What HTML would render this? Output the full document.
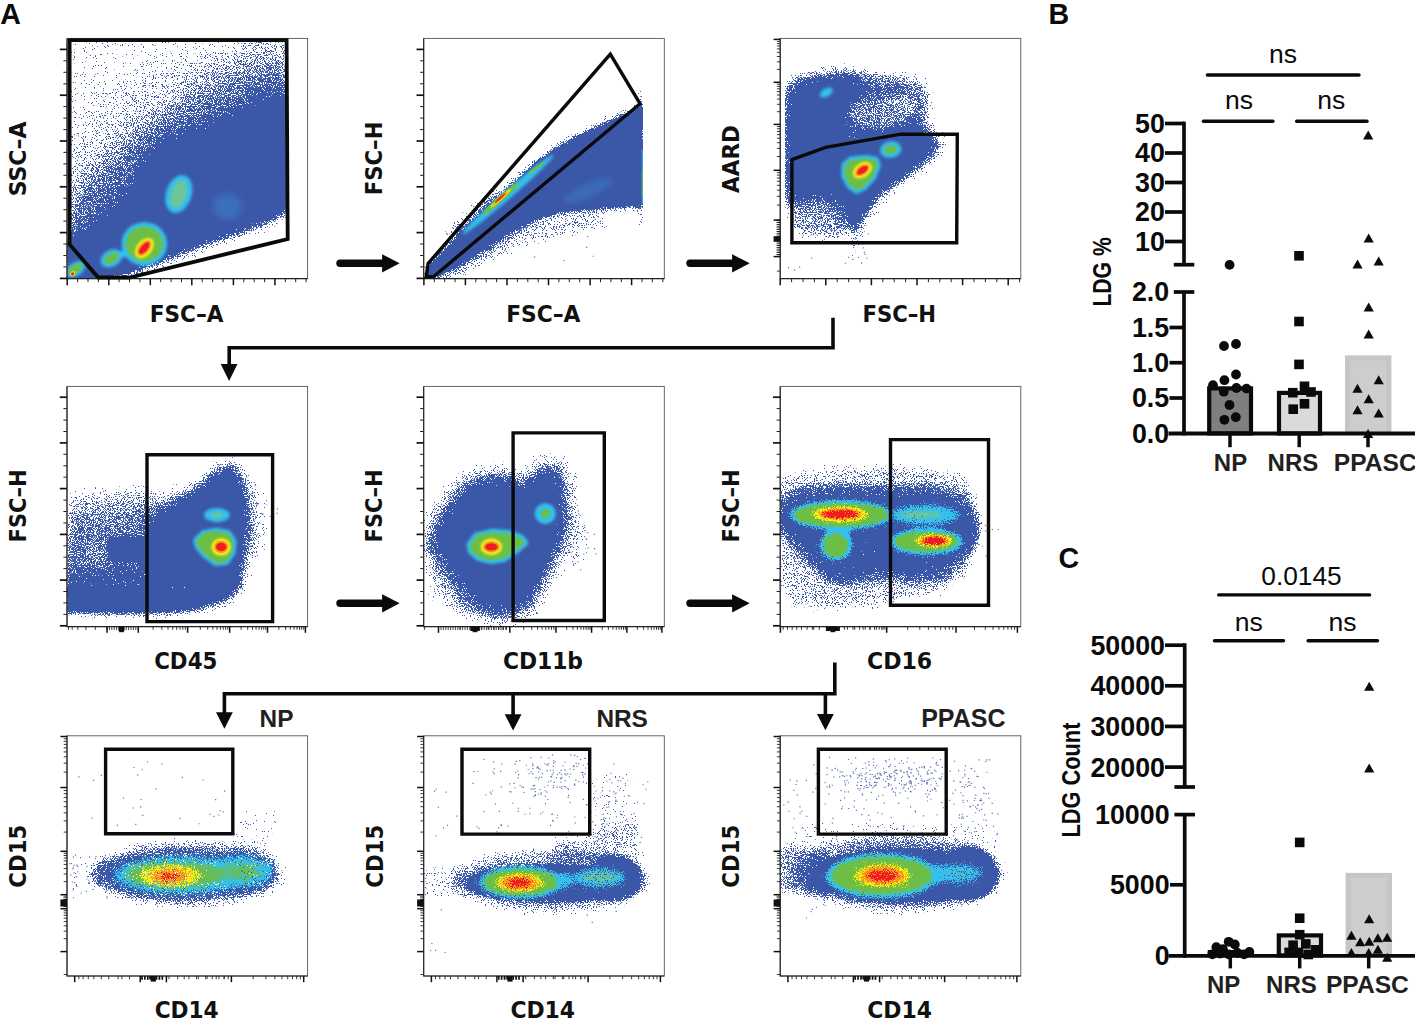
<!DOCTYPE html>
<html lang="en"><head><meta charset="utf-8"><title>Figure</title>
<style>html,body{margin:0;padding:0;background:#fff}svg{display:block}</style></head><body>
<svg width="1415" height="1019" viewBox="0 0 1415 1019">
<defs><filter id="sp" x="0" y="0" width="1415" height="1019" filterUnits="userSpaceOnUse" color-interpolation-filters="sRGB"><feColorMatrix in="SourceGraphic" type="matrix" values="0 0 0 0 0 0 0 0 0 0 0 0 0 0 0 -1.18 0 0 0 1.12" result="d"/><feTurbulence type="fractalNoise" baseFrequency="0.9" numOctaves="2" seed="7" result="n"/><feColorMatrix in="n" type="matrix" values="0 0 0 0 0 0 0 0 0 0 0 0 0 0 0 1.6 0 0 0 -0.3" result="na"/><feComposite in="d" in2="na" operator="arithmetic" k1="0" k2="1" k3="1" k4="-0.94" result="s"/><feComponentTransfer in="s" result="t"><feFuncA type="linear" slope="30" intercept="0"/></feComponentTransfer><feComponentTransfer in="d" result="m"><feFuncA type="linear" slope="40" intercept="-1"/></feComponentTransfer><feFlood flood-color="#3b57a7"/><feComposite in2="t" operator="in"/><feComposite in2="m" operator="in"/><feGaussianBlur stdDeviation="0.35"/></filter><filter id="b3" x="-60%" y="-60%" width="220%" height="220%" color-interpolation-filters="sRGB"><feGaussianBlur stdDeviation="3"/></filter><filter id="b5" x="-60%" y="-60%" width="220%" height="220%" color-interpolation-filters="sRGB"><feGaussianBlur stdDeviation="5"/></filter><filter id="b6" x="-60%" y="-60%" width="220%" height="220%" color-interpolation-filters="sRGB"><feGaussianBlur stdDeviation="6"/></filter><filter id="b7" x="-60%" y="-60%" width="220%" height="220%" color-interpolation-filters="sRGB"><feGaussianBlur stdDeviation="7"/></filter><filter id="b8" x="-60%" y="-60%" width="220%" height="220%" color-interpolation-filters="sRGB"><feGaussianBlur stdDeviation="8"/></filter><filter id="b10" x="-60%" y="-60%" width="220%" height="220%" color-interpolation-filters="sRGB"><feGaussianBlur stdDeviation="10"/></filter><filter id="b12" x="-60%" y="-60%" width="220%" height="220%" color-interpolation-filters="sRGB"><feGaussianBlur stdDeviation="12"/></filter><filter id="b15" x="-60%" y="-60%" width="220%" height="220%" color-interpolation-filters="sRGB"><feGaussianBlur stdDeviation="15"/></filter><filter id="b18" x="-60%" y="-60%" width="220%" height="220%" color-interpolation-filters="sRGB"><feGaussianBlur stdDeviation="18"/></filter><filter id="b25" x="-60%" y="-60%" width="220%" height="220%" color-interpolation-filters="sRGB"><feGaussianBlur stdDeviation="25"/></filter><filter id="b35" x="-60%" y="-60%" width="220%" height="220%" color-interpolation-filters="sRGB"><feGaussianBlur stdDeviation="35"/></filter><filter id="b50" x="-60%" y="-60%" width="220%" height="220%" color-interpolation-filters="sRGB"><feGaussianBlur stdDeviation="50"/></filter><filter id="spc" x="-20%" y="-30%" width="140%" height="160%" color-interpolation-filters="sRGB"><feTurbulence type="fractalNoise" baseFrequency="0.9" numOctaves="2" seed="7" result="n"/><feColorMatrix in="n" type="matrix" values="0 0 0 0 0 0 0 0 0 0 0 0 0 0 0 1.6 0 0 0 -0.3" result="na"/><feComposite in="SourceGraphic" in2="na" operator="arithmetic" k1="0" k2="1" k3="1" k4="-0.94" result="s"/><feComponentTransfer in="s" result="t"><feFuncA type="linear" slope="30" intercept="0"/></feComponentTransfer><feComponentTransfer in="SourceGraphic" result="op"><feFuncA type="linear" slope="25" intercept="0"/></feComponentTransfer><feComposite in="op" in2="t" operator="in"/><feGaussianBlur stdDeviation="0.35"/></filter><clipPath id="c00"><rect x="67.5" y="38.9" width="239.6" height="239.2"/></clipPath><clipPath id="c01"><rect x="67.5" y="386.9" width="239.6" height="239.2"/></clipPath><clipPath id="c02"><rect x="67.5" y="736.3" width="239.6" height="239.2"/></clipPath><clipPath id="c10"><rect x="424.2" y="38.9" width="239.6" height="239.2"/></clipPath><clipPath id="c11"><rect x="424.2" y="386.9" width="239.6" height="239.2"/></clipPath><clipPath id="c12"><rect x="424.2" y="736.3" width="239.6" height="239.2"/></clipPath><clipPath id="c20"><rect x="780.7" y="38.9" width="239.6" height="239.2"/></clipPath><clipPath id="c21"><rect x="780.7" y="386.9" width="239.6" height="239.2"/></clipPath><clipPath id="c22"><rect x="780.7" y="736.3" width="239.6" height="239.2"/></clipPath><clipPath id="c00r"><rect x="67.5" y="38.9" width="219.3" height="239.2"/></clipPath><clipPath id="c00g"><rect x="67.5" y="38.9" width="219.3" height="239.2"/></clipPath><clipPath id="c10r"><rect x="424.2" y="38.9" width="218.7" height="239.2"/></clipPath><clipPath id="c20l"><rect x="785" y="38.9" width="230" height="239.2"/></clipPath></defs>
<rect width="1415" height="1019" fill="#fff"/>
<g filter="url(#sp)"><rect width="1415" height="1019" fill="#fff"/><g clip-path="url(#c00r)"><g transform="translate(50 25) scale(0.26497)"><polygon points="70,800 70,55 893,55 893,270" fill="#000" opacity="0.16"/><polygon points="70,800 70,420 300,200 600,120 893,60 893,300" fill="#000" opacity="0.12" filter="url(#b35)"/><polygon points="420,420 560,160 893,40 893,300" fill="#000" opacity="0.2" filter="url(#b50)"/><polygon points="70,800 70,600 330,340 600,250 893,130 893,300" fill="#000" opacity="0.2" filter="url(#b35)"/><polygon points="70,800 75,700 380,400 620,330 893,180 893,300" fill="#000" opacity="0.3" filter="url(#b35)"/><polygon points="72,842 72,800 150,762 250,684 330,604 385,505 430,452 500,432 600,402 700,354 800,312 893,278 893,692 800,742 700,778 600,812 500,848 400,888 300,928 180,948 120,905" fill="#000" stroke="#000" stroke-width="50" stroke-linejoin="round" opacity="0.42" filter="url(#b25)"/><polygon points="72,842 72,800 150,762 250,684 330,604 385,505 430,452 500,432 600,402 700,354 800,312 893,278 893,692 800,742 700,778 600,812 500,848 400,888 300,928 180,948 120,905" fill="#000" stroke="#000" stroke-width="24" stroke-linejoin="round" opacity="0.5" filter="url(#b12)"/><polygon points="72,842 72,826 150,790 250,714 330,636 388,540 432,486 500,466 600,438 700,394 800,354 893,322 893,686 800,736 700,772 600,806 500,842 400,882 300,922 180,944 120,905" fill="#000" opacity="1.0" filter="url(#b12)"/><polygon points="60,820 190,960 60,960" fill="#000" opacity="1.0" filter="url(#b5)"/></g></g><g clip-path="url(#c10r)"><g transform="translate(405 25) scale(0.26497)"><polygon points="76,952 100,903 200,798 300,698 400,608 500,519 560,474 640,428 760,370 897,308 897,680 800,686 700,692 600,702 500,728 400,778 300,842 200,906 120,952" fill="#000" stroke="#000" stroke-width="30" stroke-linejoin="round" opacity="0.45" filter="url(#b12)"/><polygon points="76,952 100,903 200,798 300,698 400,608 500,519 560,474 640,428 760,370 897,308 897,680 800,686 700,692 600,702 500,728 400,778 300,842 200,906 120,952" fill="#000" opacity="1.0" filter="url(#b7)"/><polygon points="150,940 300,810 450,750 600,720 760,700 760,760 620,790 450,830 320,890 200,955" fill="#000" opacity="0.32" filter="url(#b18)"/><polygon points="120,800 250,680 340,600 350,660 200,800" fill="#000" opacity="0.3" filter="url(#b12)"/><polygon points="880,240 897,240 897,770 880,770" fill="#000" opacity="0.3" filter="url(#b5)"/></g></g><g clip-path="url(#c20l)"><g transform="translate(762 25) scale(0.26497)"><polygon points="92,300 102,240 150,207 250,192 330,187 400,202 470,210 540,214 598,232 618,290 598,370 640,420 662,450 638,492 588,532 518,582 438,642 393,700 352,768 328,742 308,692 250,652 170,642 102,660 90,560 90,400" fill="#000" stroke="#000" stroke-width="60" stroke-linejoin="round" opacity="0.3" filter="url(#b25)"/><polygon points="92,300 102,240 150,207 250,192 330,187 400,202 470,210 540,214 598,232 618,290 598,370 640,420 662,450 638,492 588,532 518,582 438,642 393,700 352,768 328,742 308,692 250,652 170,642 102,660 90,560 90,400" fill="#000" stroke="#000" stroke-width="24" stroke-linejoin="round" opacity="0.5" filter="url(#b12)"/><polygon points="111.7,310.2 121.0,254.4 165.7,223.7 258.7,209.7 333.1,205.1 398.2,219.0 463.3,226.5 528.4,230.2 582.3,246.9 600.9,300.9 582.3,375.3 621.4,421.8 641.8,449.7 619.5,488.7 573.0,525.9 507.9,572.4 433.5,628.2 391.6,682.2 353.5,745.4 331.2,721.2 312.6,674.7 258.7,637.5 184.3,628.2 121.0,645.0 109.9,552.0 109.9,403.2" fill="#000" opacity="1.0" filter="url(#b10)"/><ellipse cx="450" cy="330" rx="140" ry="70" fill="#fff" opacity="0.42" filter="url(#b18)" transform="rotate(-8 450 330)"/><ellipse cx="560" cy="270" rx="50" ry="60" fill="#fff" opacity="0.3" filter="url(#b18)"/><ellipse cx="480" cy="300" rx="170" ry="105" fill="#fff" opacity="0.2" filter="url(#b25)"/><ellipse cx="420" cy="230" rx="120" ry="25" fill="#fff" opacity="0.2" filter="url(#b12)"/><ellipse cx="340" cy="420" rx="40" ry="25" fill="#fff" opacity="0.3" filter="url(#b12)"/><ellipse cx="180" cy="440" rx="25" ry="18" fill="#fff" opacity="0.3" filter="url(#b8)"/><polygon points="95,640 250,650 310,700 330,760 300,810 200,800 110,780" fill="#000" opacity="0.42" filter="url(#b18)"/><polygon points="325,760 385,760 380,900 330,900" fill="#000" opacity="0.15" filter="url(#b12)"/></g></g><g clip-path="url(#c01)"><g transform="translate(50 372) scale(0.26497)"><polygon points="60,470 200,470 380,455 520,430 600,380 650,340 720,350 760,450 770,620 740,780 700,860 560,920 300,925 60,920" fill="#000" opacity="0.22" filter="url(#b25)"/><polygon points="60,450 380,425 430,520 430,830 60,830" fill="#000" opacity="0.2" filter="url(#b25)"/><polygon points="60,545 400,510 430,830 60,830" fill="#000" opacity="0.2" filter="url(#b25)"/><polygon points="60,645 420,620 430,830 60,830" fill="#000" opacity="0.2" filter="url(#b25)"/><polygon points="60,745 420,730 430,830 60,830" fill="#000" opacity="0.3" filter="url(#b18)"/><polygon points="385,575 450,505 520,472 580,440 620,392 680,366 715,400 730,470 738,560 735,640 720,720 702,800 640,852 500,852 400,800 385,700" fill="#000" stroke="#000" stroke-width="70" stroke-linejoin="round" opacity="0.3" filter="url(#b25)"/><polygon points="385,575 450,505 520,472 580,440 620,392 680,366 715,400 730,470 738,560 735,640 720,720 702,800 640,852 500,852 400,800 385,700" fill="#000" stroke="#000" stroke-width="24" stroke-linejoin="round" opacity="0.5" filter="url(#b12)"/><polygon points="60,818 200,812 360,815 450,808 600,800 705,790 690,820 640,850 560,884 450,901 300,904 60,901" fill="#000" stroke="#000" stroke-width="30" stroke-linejoin="round" opacity="0.45" filter="url(#b10)"/><polygon points="60,818 200,812 360,815 450,808 600,800 705,790 690,820 640,850 560,884 450,901 300,904 60,901" fill="#000" opacity="1.0" filter="url(#b7)"/><polygon points="401.7,576.7 461.5,512.3 525.9,482.0 581.1,452.5 617.9,408.4 673.1,384.4 705.3,415.7 719.1,480.1 726.5,562.9 723.7,636.5 709.9,710.1 693.3,783.7 636.3,831.6 507.5,831.6 415.5,783.7 401.7,691.7" fill="#000" opacity="1.0" filter="url(#b10)"/><ellipse cx="290" cy="668" rx="75" ry="45" fill="#000" opacity="1.0" filter="url(#b8)"/><polygon points="280,640 400,620 400,710 280,700" fill="#000" opacity="1.0" filter="url(#b8)"/><ellipse cx="170" cy="690" rx="50" ry="60" fill="#fff" opacity="0.22" filter="url(#b18)"/><ellipse cx="470" cy="810" rx="60" ry="20" fill="#fff" opacity="0.25" filter="url(#b8)"/><ellipse cx="790" cy="560" rx="40" ry="150" fill="#000" opacity="0.16" filter="url(#b18)"/></g></g><g clip-path="url(#c11)"><g transform="translate(405 372) scale(0.26497)"><polygon points="100,650 132,560 222,444 300,405 380,405 450,434 490,404 520,374 568,374 594,430 600,560 580,640 540,720 500,800 460,878 400,903 330,910 274,878 204,800 144,720" fill="#000" stroke="#000" stroke-width="110" stroke-linejoin="round" opacity="0.36" filter="url(#b25)"/><polygon points="90,700 300,900 200,925 90,860" fill="#000" opacity="0.2" filter="url(#b18)"/><polygon points="100,650 132,560 222,444 300,405 380,405 450,434 490,404 520,374 568,374 594,430 600,560 580,640 540,720 500,800 460,878 400,903 330,910 274,878 204,800 144,720" fill="#000" stroke="#000" stroke-width="24" stroke-linejoin="round" opacity="0.5" filter="url(#b15)"/><polygon points="131.8,646.1 160.3,566.0 240.4,462.7 309.8,428.0 381.0,428.0 443.3,453.8 478.9,427.1 505.6,400.4 548.4,400.4 571.5,450.3 576.8,566.0 559.0,637.2 523.4,708.4 487.8,779.6 452.2,849.0 398.8,871.3 336.5,877.5 286.7,849.0 224.4,779.6 171.0,708.4" fill="#000" opacity="1.0" filter="url(#b12)"/><ellipse cx="650" cy="640" rx="50" ry="100" fill="#000" opacity="0.15" filter="url(#b18)"/></g></g><g clip-path="url(#c21)"><g transform="translate(762 372) scale(0.26497)"><polygon points="62,400 200,362 500,352 760,380 815,500 815,650 765,780 640,852 450,882 250,905 120,885 62,800" fill="#000" opacity="0.32" filter="url(#b18)"/><polygon points="62,492 150,454 300,444 480,449 640,444 758,474 795,540 790,640 740,720 680,768 560,780 480,760 400,770 300,790 234,760 154,680 94,600 62,580" fill="#000" stroke="#000" stroke-width="40" stroke-linejoin="round" opacity="0.4" filter="url(#b15)"/><polygon points="91.2,502.2 172.1,467.2 310.1,458.0 475.7,462.6 622.9,458.0 731.5,485.6 765.5,546.3 760.9,638.3 714.9,711.9 659.7,756.1 549.3,767.1 475.7,748.7 402.1,757.9 310.1,776.3 249.4,748.7 175.8,675.1 120.6,601.5 91.2,583.1" fill="#000" opacity="0.6" filter="url(#b18)"/><ellipse cx="300" cy="560" rx="250" ry="75" fill="#000" opacity="0.62" filter="url(#b18)"/><ellipse cx="630" cy="600" rx="190" ry="95" fill="#000" opacity="0.62" filter="url(#b18)"/><ellipse cx="280" cy="650" rx="80" ry="70" fill="#000" opacity="0.6" filter="url(#b12)"/></g></g><g clip-path="url(#c02)"><g transform="translate(50 722) scale(0.26497)"><ellipse cx="520" cy="572" rx="375" ry="128" fill="#000" opacity="0.32" filter="url(#b18)"/><ellipse cx="510" cy="575" rx="340" ry="102" fill="#000" opacity="0.38" filter="url(#b12)"/><ellipse cx="490" cy="578" rx="275" ry="76" fill="#000" opacity="0.32" filter="url(#b12)"/><ellipse cx="740" cy="560" rx="112" ry="90" fill="#000" opacity="0.3" filter="url(#b12)"/><polygon points="70,520 200,500 200,640 70,660" fill="#000" opacity="0.12" filter="url(#b12)"/><polygon points="680,330 860,330 860,470 680,470" fill="#000" opacity="0.14" filter="url(#b12)"/></g></g><g clip-path="url(#c12)"><g transform="translate(405 722) scale(0.26497)"><ellipse cx="555" cy="600" rx="375" ry="120" fill="#000" opacity="0.4" filter="url(#b18)"/><ellipse cx="545" cy="607" rx="318" ry="70" fill="#000" opacity="0.5" filter="url(#b10)"/><ellipse cx="545" cy="607" rx="310" ry="64" fill="#000" opacity="1.0" filter="url(#b8)"/><ellipse cx="790" cy="588" rx="92" ry="72" fill="#000" opacity="1.0" filter="url(#b8)"/><ellipse cx="790" cy="588" rx="105" ry="88" fill="#000" opacity="0.5" filter="url(#b10)"/><polygon points="70,540 230,540 230,660 70,660" fill="#000" opacity="0.22" filter="url(#b12)"/><polygon points="560,440 880,380 900,520 560,530" fill="#000" opacity="0.28" filter="url(#b18)"/><polygon points="700,200 860,180 880,420 700,440" fill="#000" opacity="0.14" filter="url(#b12)"/></g></g><g clip-path="url(#c22)"><g transform="translate(762 722) scale(0.26497)"><ellipse cx="520" cy="575" rx="400" ry="145" fill="#000" opacity="0.4" filter="url(#b18)"/><ellipse cx="530" cy="580" rx="350" ry="104" fill="#000" opacity="0.5" filter="url(#b10)"/><ellipse cx="530" cy="580" rx="338" ry="92" fill="#000" opacity="1.0" filter="url(#b8)"/><ellipse cx="780" cy="572" rx="98" ry="90" fill="#000" opacity="1.0" filter="url(#b8)"/><ellipse cx="780" cy="572" rx="110" ry="105" fill="#000" opacity="0.5" filter="url(#b10)"/><polygon points="62,470 250,480 250,660 62,640" fill="#000" opacity="0.42" filter="url(#b12)"/><polygon points="90,380 900,380 900,480 90,480" fill="#000" opacity="0.16" filter="url(#b12)"/></g></g></g>
<g clip-path="url(#c00g)"><g transform="translate(50 25) scale(0.26497)"><ellipse cx="670" cy="685" rx="55" ry="48" fill="#3f9be0" filter="url(#b12)" opacity="0.36"/><ellipse cx="486" cy="638" rx="48" ry="73" fill="#35c0ee" transform="rotate(18 486 638)" filter="url(#b7)"/><ellipse cx="486" cy="638" rx="29" ry="54" fill="#6cc59a" transform="rotate(18 486 638)" filter="url(#b5)"/><ellipse cx="290" cy="858" rx="40" ry="14" fill="#35c0ee" transform="rotate(-25 290 858)" filter="url(#b7)"/><ellipse cx="231.5" cy="880.5" rx="43" ry="31.5" fill="#35c0ee" transform="rotate(-30 231.5 880.5)" filter="url(#b7)"/><ellipse cx="231.5" cy="880.5" rx="29" ry="17.5" fill="#6dbe45" transform="rotate(-30 231.5 880.5)" filter="url(#b5)"/><ellipse cx="356" cy="826" rx="86" ry="82" fill="#35c0ee" filter="url(#b7)"/><ellipse cx="356" cy="826" rx="70" ry="66" fill="#6dbe45" filter="url(#b5)"/><ellipse cx="356" cy="842" rx="44" ry="28.6" fill="#f6eb14" transform="rotate(-50 356 842)" filter="url(#b5)"/><ellipse cx="356" cy="842" rx="34.25" ry="18.85" fill="#f7941d" transform="rotate(-50 356 842)" filter="url(#b3)"/><ellipse cx="356" cy="842" rx="26.68" ry="11.968" fill="#ee1c25" transform="rotate(-50 356 842)" filter="url(#b3)"/><ellipse cx="96" cy="922" rx="41" ry="25" fill="#35c0ee" transform="rotate(-35 96 922)" filter="url(#b7)"/><ellipse cx="96" cy="922" rx="31" ry="15" fill="#6dbe45" transform="rotate(-35 96 922)" filter="url(#b5)"/><ellipse cx="86" cy="938" rx="11" ry="8" fill="#f6eb14" transform="rotate(-35 86 938)" filter="url(#b3)"/><ellipse cx="85.5" cy="939" rx="6.5" ry="5" fill="#ee1c25" transform="rotate(-35 85.5 939)"/></g></g><g clip-path="url(#c10)"><g transform="translate(405 25) scale(0.26497)"><ellipse cx="690" cy="625" rx="100" ry="28" fill="#3f9be0" transform="rotate(-25 690 625)" filter="url(#b10)" opacity="0.28"/><ellipse cx="388.7" cy="639.3" rx="228" ry="16" fill="#35c0ee" transform="rotate(-41 388.7 639.3)" filter="url(#b6)"/><ellipse cx="361.5" cy="654.9" rx="92" ry="11" fill="#6dbe45" transform="rotate(-42 361.5 654.9)" filter="url(#b4)"/><ellipse cx="493.7" cy="540.2" rx="39" ry="5.5" fill="#6dbe45" transform="rotate(-37 493.7 540.2)" filter="url(#b3)"/><ellipse cx="361" cy="654" rx="52" ry="6" fill="#f6eb14" transform="rotate(-42 361 654)" filter="url(#b3)"/><ellipse cx="360" cy="653.5" rx="36" ry="4.6" fill="#f7941d" transform="rotate(-42 360 653.5)" filter="url(#b3)"/><ellipse cx="359.6" cy="652.9" rx="27" ry="3.6" fill="#ee1c25" transform="rotate(-42 359.6 652.9)"/><path d="M895.5 470V672" stroke="#35c0ee" stroke-width="3.4"/><path d="M895.5 548V646" stroke="#6dbe45" stroke-width="3.4"/></g></g><g clip-path="url(#c20)"><g transform="translate(762 25) scale(0.26497)"><ellipse cx="243" cy="255" rx="27" ry="15" fill="#35c0ee" transform="rotate(-30 243 255)" filter="url(#b6)"/><ellipse cx="485.5" cy="470.5" rx="41" ry="31.5" fill="#35c0ee" transform="rotate(-10 485.5 470.5)" filter="url(#b7)"/><ellipse cx="485.5" cy="470.5" rx="25" ry="15.5" fill="#6dbe45" transform="rotate(-10 485.5 470.5)" filter="url(#b5)"/><polygon points="314.5,530.8 337.8,511.3 392.2,505.5 427.2,511.3 433.1,530.8 415.6,573.5 384.5,608.5 357.2,622.1 333.9,604.6 314.5,569.6" fill="#35c0ee" stroke="#35c0ee" stroke-width="30" stroke-linejoin="round" filter="url(#b7)"/><polygon points="314.5,530.8 337.8,511.3 392.2,505.5 427.2,511.3 433.1,530.8 415.6,573.5 384.5,608.5 357.2,622.1 333.9,604.6 314.5,569.6" fill="#6dbe45" stroke="#6dbe45" stroke-width="4" stroke-linejoin="round" filter="url(#b5)"/><ellipse cx="379" cy="548" rx="40" ry="27.5" fill="#f6eb14" transform="rotate(-35 379 548)" filter="url(#b5)"/><ellipse cx="379" cy="548" rx="30.25" ry="17.75" fill="#f7941d" transform="rotate(-35 379 548)" filter="url(#b3)"/><ellipse cx="379" cy="548" rx="23.0" ry="11.0" fill="#ee1c25" transform="rotate(-35 379 548)" filter="url(#b3)"/></g></g><g clip-path="url(#c01)"><g transform="translate(50 372) scale(0.26497)"><ellipse cx="629.8" cy="539.8" rx="48" ry="27" fill="#35c0ee" filter="url(#b7)"/><ellipse cx="629.8" cy="539.8" rx="23" ry="9" fill="#6cc59a" filter="url(#b5)"/><polygon points="554.0,637.0 581.2,609.8 627.9,602.0 670.6,609.8 690.1,640.9 686.2,679.8 662.9,714.8 627.9,718.6 585.1,687.5 561.8,660.3" fill="#35c0ee" stroke="#35c0ee" stroke-width="28" stroke-linejoin="round" filter="url(#b7)"/><polygon points="554.0,637.0 581.2,609.8 627.9,602.0 670.6,609.8 690.1,640.9 686.2,679.8 662.9,714.8 627.9,718.6 585.1,687.5 561.8,660.3" fill="#6dbe45" stroke="#6dbe45" stroke-width="4" stroke-linejoin="round" filter="url(#b5)"/><ellipse cx="646" cy="660" rx="37" ry="33.5" fill="#f6eb14" filter="url(#b5)"/><ellipse cx="646" cy="660" rx="26.6" ry="23.1" fill="#f7941d" filter="url(#b3)"/><ellipse cx="646" cy="660" rx="19.32" ry="15.4" fill="#ee1c25" filter="url(#b3)"/></g></g><g clip-path="url(#c11)"><g transform="translate(405 372) scale(0.26497)"><ellipse cx="529.4" cy="534.7" rx="39.5" ry="39.5" fill="#35c0ee" filter="url(#b7)"/><ellipse cx="529.4" cy="534.7" rx="17.5" ry="17.5" fill="#6dbe45" filter="url(#b5)"/><polygon points="247.6,651.4 270.9,620.3 325.3,606.7 387.5,610.5 434.2,626.1 449.7,643.6 418.6,670.8 372.0,701.9 325.3,709.7 278.7,698.0 251.4,674.7" fill="#35c0ee" stroke="#35c0ee" stroke-width="30" stroke-linejoin="round" filter="url(#b7)"/><polygon points="247.6,651.4 270.9,620.3 325.3,606.7 387.5,610.5 434.2,626.1 449.7,643.6 418.6,670.8 372.0,701.9 325.3,709.7 278.7,698.0 251.4,674.7" fill="#6dbe45" stroke="#6dbe45" stroke-width="4" stroke-linejoin="round" filter="url(#b5)"/><ellipse cx="326" cy="660" rx="41" ry="31.5" fill="#f6eb14" filter="url(#b5)"/><ellipse cx="326" cy="660" rx="30.6" ry="21.1" fill="#f7941d" filter="url(#b3)"/><ellipse cx="326" cy="660" rx="23.0" ry="13.64" fill="#ee1c25" filter="url(#b3)"/></g></g><g filter="url(#spc)"><g clip-path="url(#c21)"><g transform="translate(762 372) scale(0.26497)"><ellipse cx="614.9" cy="539.2" rx="130" ry="36" fill="#35c0ee" filter="url(#b12)" opacity="0.85"/><ellipse cx="290" cy="600" rx="42" ry="44" fill="#35c0ee" filter="url(#b8)"/><ellipse cx="278.8" cy="654" rx="60" ry="56" fill="#35c0ee" filter="url(#b10)"/><ellipse cx="298.4" cy="539.2" rx="194" ry="56" fill="#35c0ee" filter="url(#b10)"/><ellipse cx="620.5" cy="640" rx="136" ry="50" fill="#35c0ee" filter="url(#b10)"/></g></g></g><g filter="url(#spc)"><g clip-path="url(#c21)"><g transform="translate(762 372) scale(0.26497)"><ellipse cx="600" cy="538" rx="85" ry="16" fill="#6cc59a" filter="url(#b10)" opacity="0.75"/><ellipse cx="278.8" cy="654" rx="46" ry="43" fill="#6dbe45" filter="url(#b8)"/><ellipse cx="298.4" cy="539.2" rx="178" ry="43" fill="#6dbe45" filter="url(#b8)"/><ellipse cx="620.5" cy="640" rx="120" ry="37" fill="#6dbe45" filter="url(#b8)"/></g></g></g><g filter="url(#spc)"><g clip-path="url(#c21)"><g transform="translate(762 372) scale(0.26497)"><ellipse cx="296" cy="537" rx="104" ry="28" fill="#f6eb14" filter="url(#b8)"/><ellipse cx="648.5" cy="637.2" rx="70" ry="23" fill="#f6eb14" filter="url(#b8)"/></g></g></g><g filter="url(#spc)"><g clip-path="url(#c21)"><g transform="translate(762 372) scale(0.26497)"><ellipse cx="296" cy="536.6" rx="84" ry="21" fill="#f7941d" filter="url(#b8)"/><ellipse cx="650" cy="637.2" rx="58" ry="17" fill="#f7941d" filter="url(#b8)"/></g></g></g><g filter="url(#spc)"><g clip-path="url(#c21)"><g transform="translate(762 372) scale(0.26497)"><ellipse cx="295.6" cy="536.4" rx="68" ry="15" fill="#ee1c25" filter="url(#b8)"/><ellipse cx="651.3" cy="637.2" rx="48" ry="12.5" fill="#ee1c25" filter="url(#b8)"/></g></g></g><g filter="url(#spc)"><g clip-path="url(#c02)"><g transform="translate(50 722) scale(0.26497)"><ellipse cx="485" cy="578" rx="245" ry="72" fill="#35c0ee" filter="url(#b18)" opacity="0.78"/><ellipse cx="725" cy="565" rx="122" ry="62" fill="#35c0ee" filter="url(#b18)" opacity="0.72"/></g></g></g><g filter="url(#spc)"><g clip-path="url(#c02)"><g transform="translate(50 722) scale(0.26497)"><ellipse cx="470" cy="578" rx="190" ry="54" fill="#6dbe45" filter="url(#b18)" opacity="0.74"/><ellipse cx="722" cy="565" rx="86" ry="40" fill="#6dbe45" filter="url(#b18)" opacity="0.58"/></g></g></g><g filter="url(#spc)"><g clip-path="url(#c02)"><g transform="translate(50 722) scale(0.26497)"><ellipse cx="455" cy="580" rx="118" ry="43" fill="#f6eb14" filter="url(#b15)" opacity="0.74"/></g></g></g><g filter="url(#spc)"><g clip-path="url(#c02)"><g transform="translate(50 722) scale(0.26497)"><ellipse cx="452" cy="581" rx="80" ry="31" fill="#f7941d" filter="url(#b15)" opacity="0.72"/></g></g></g><g filter="url(#spc)"><g clip-path="url(#c02)"><g transform="translate(50 722) scale(0.26497)"><ellipse cx="450" cy="582" rx="42" ry="17" fill="#ee1c25" filter="url(#b12)" opacity="0.68"/></g></g></g><g filter="url(#spc)"><g clip-path="url(#c12)"><g transform="translate(405 722) scale(0.26497)"><ellipse cx="732" cy="587" rx="104" ry="38" fill="#35c0ee" filter="url(#b15)" opacity="0.68"/><ellipse cx="436" cy="605" rx="156" ry="60" fill="#35c0ee" filter="url(#b12)"/><ellipse cx="590" cy="598" rx="50" ry="26" fill="#35c0ee" filter="url(#b12)" opacity="0.8"/></g></g></g><g filter="url(#spc)"><g clip-path="url(#c12)"><g transform="translate(405 722) scale(0.26497)"><ellipse cx="735" cy="586" rx="80" ry="24" fill="#6cc59a" filter="url(#b15)" opacity="0.6"/><ellipse cx="436" cy="605" rx="140" ry="48" fill="#6dbe45" filter="url(#b12)"/></g></g></g><g filter="url(#spc)"><g clip-path="url(#c12)"><g transform="translate(405 722) scale(0.26497)"><ellipse cx="432" cy="606" rx="90" ry="32" fill="#f6eb14" filter="url(#b12)"/></g></g></g><g filter="url(#spc)"><g clip-path="url(#c12)"><g transform="translate(405 722) scale(0.26497)"><ellipse cx="431" cy="606.5" rx="72" ry="25" fill="#f7941d" filter="url(#b12)"/></g></g></g><g filter="url(#spc)"><g clip-path="url(#c12)"><g transform="translate(405 722) scale(0.26497)"><ellipse cx="430" cy="607" rx="50" ry="16" fill="#ee1c25" filter="url(#b12)" opacity="0.9"/></g></g></g><g filter="url(#spc)"><g clip-path="url(#c22)"><g transform="translate(762 722) scale(0.26497)"><ellipse cx="745" cy="572" rx="88" ry="38" fill="#35c0ee" filter="url(#b15)" opacity="0.65"/><ellipse cx="452" cy="580" rx="208" ry="84" fill="#35c0ee" filter="url(#b12)"/><ellipse cx="650" cy="575" rx="50" ry="32" fill="#35c0ee" filter="url(#b12)" opacity="0.8"/></g></g></g><g filter="url(#spc)"><g clip-path="url(#c22)"><g transform="translate(762 722) scale(0.26497)"><ellipse cx="745" cy="570" rx="50" ry="18" fill="#6cc59a" filter="url(#b15)" opacity="0.45"/><ellipse cx="452" cy="580" rx="190" ry="69" fill="#6dbe45" filter="url(#b12)"/></g></g></g><g filter="url(#spc)"><g clip-path="url(#c22)"><g transform="translate(762 722) scale(0.26497)"><ellipse cx="455" cy="580" rx="106" ry="41" fill="#f6eb14" filter="url(#b12)"/></g></g></g><g filter="url(#spc)"><g clip-path="url(#c22)"><g transform="translate(762 722) scale(0.26497)"><ellipse cx="455" cy="580" rx="85" ry="32" fill="#f7941d" filter="url(#b12)"/></g></g></g><g filter="url(#spc)"><g clip-path="url(#c22)"><g transform="translate(762 722) scale(0.26497)"><ellipse cx="455" cy="580" rx="58" ry="20" fill="#ee1c25" filter="url(#b12)" opacity="0.9"/></g></g></g>
<path d="M86.2 879.0h1.15M104.1 874.8h1.15M88.3 880.2h1.15M76.1 876.9h1.15M92.9 889.2h1.15M72.6 867.7h1.15M72.5 889.9h1.15M95.4 856.3h1.15M106.3 896.7h1.15M93.9 881.4h1.15M75.0 855.1h1.15M89.1 857.1h1.15M76.3 865.1h1.15M70.2 874.8h1.15M85.8 891.3h1.15M88.7 882.5h1.15M88.0 883.4h1.15M86.4 866.6h1.15M106.9 898.0h1.15M100.9 885.4h1.15M81.0 864.5h1.15M80.0 857.6h1.15M98.1 872.0h1.15M101.2 871.4h1.15M105.4 891.5h1.15M69.1 863.7h1.15M103.6 875.0h1.15M106.2 871.9h1.15M71.8 882.0h1.15M98.6 866.3h1.15M72.4 869.0h1.15M105.6 887.6h1.15M73.5 865.3h1.15M72.9 857.1h1.15M99.3 862.3h1.15M90.3 874.0h1.15M76.3 886.5h1.15M74.0 882.6h1.15M73.5 872.9h1.15M77.1 866.3h1.15M105.9 889.6h1.15M80.6 893.2h1.15M77.1 871.7h1.15M101.4 882.5h1.15M72.9 897.7h1.15M137.1 774.9h1.15M202.4 780.0h1.15M146.8 761.7h1.15M122.8 798.1h1.15M140.6 799.5h1.15M155.6 788.9h1.15M224.1 791.1h1.15M179.3 818.4h1.15M133.6 767.5h1.15M218.2 815.0h1.15M141.4 770.0h1.15M198.5 823.7h1.15M135.2 824.4h1.15M215.1 799.6h1.15M161.4 763.9h1.15M116.8 825.3h1.15M140.1 806.9h1.15M142.2 815.4h1.15M181.8 777.4h1.15M132.7 808.0h1.15M78.3 776.9h1.15M91.3 818.2h1.15M92.8 780.3h1.15M100.8 775.3h1.15M209.4 814.4h1.15M219.6 810.6h1.15M213.2 816.3h1.15M222.6 811.9h1.15M523.5 792.5h1.15M544.6 763.9h1.15M560.1 778.4h1.15M517.7 778.1h1.15M517.7 811.4h1.15M582.7 782.1h1.15M551.9 754.8h1.15M553.0 760.7h1.15M570.2 754.8h1.15M534.4 788.6h1.15M519.5 785.2h1.15M576.4 766.4h1.15M539.5 769.3h1.15M527.7 769.5h1.15M585.9 783.3h1.15M552.8 766.4h1.15M553.1 763.1h1.15M513.6 783.3h1.15M587.8 778.9h1.15M538.9 777.2h1.15M547.1 765.1h1.15M515.7 761.4h1.15M555.9 777.8h1.15M544.7 790.7h1.15M560.3 782.2h1.15M585.1 768.1h1.15M509.1 783.9h1.15M539.6 789.5h1.15M564.1 786.5h1.15M574.2 755.4h1.15M573.2 769.5h1.15M538.0 771.9h1.15M574.3 785.2h1.15M580.1 759.6h1.15M553.6 782.4h1.15M537.8 778.8h1.15M561.5 786.5h1.15M536.4 768.0h1.15M537.8 794.0h1.15M582.0 775.1h1.15M561.4 777.5h1.15M560.9 774.2h1.15M548.1 763.7h1.15M540.7 792.9h1.15M568.8 777.0h1.15M550.9 776.9h1.15M564.5 769.8h1.15M560.7 778.7h1.15M538.2 768.4h1.15M532.2 765.6h1.15M549.7 770.2h1.15M541.2 777.3h1.15M582.9 777.1h1.15M552.7 770.2h1.15M553.0 785.5h1.15M546.6 764.8h1.15M525.9 765.2h1.15M522.9 787.4h1.15M564.5 773.9h1.15M574.0 784.4h1.15M519.2 760.6h1.15M533.9 785.4h1.15M586.9 764.0h1.15M581.0 772.5h1.15M546.6 770.8h1.15M548.3 758.0h1.15M532.2 763.9h1.15M567.7 797.4h1.15M515.0 772.2h1.15M533.6 796.3h1.15M569.6 769.0h1.15M578.3 781.7h1.15M517.3 771.0h1.15M550.3 776.5h1.15M559.2 772.9h1.15M560.6 770.4h1.15M534.7 791.6h1.15M564.6 780.7h1.15M518.0 774.6h1.15M575.6 763.3h1.15M582.2 772.4h1.15M565.6 775.0h1.15M561.2 788.4h1.15M546.4 792.1h1.15M537.4 766.9h1.15M573.0 765.6h1.15M547.2 785.5h1.15M584.9 758.4h1.15M568.1 795.3h1.15M584.5 773.9h1.15M541.7 773.3h1.15M528.5 773.7h1.15M551.6 774.9h1.15M584.2 774.0h1.15M521.3 786.9h1.15M530.4 771.8h1.15M552.8 772.9h1.15M532.1 773.8h1.15M552.8 787.6h1.15M573.8 784.0h1.15M576.6 756.5h1.15M535.4 777.6h1.15M567.9 789.4h1.15M567.2 773.9h1.15M557.0 774.2h1.15M493.6 773.6h1.15M550.4 780.8h1.15M512.2 803.2h1.15M483.3 811.6h1.15M485.4 795.0h1.15M500.1 771.4h1.15M532.4 789.4h1.15M514.5 787.7h1.15M532.3 768.5h1.15M494.8 804.1h1.15M544.8 796.4h1.15M569.4 802.6h1.15M570.0 774.0h1.15M556.6 817.7h1.15M575.3 780.3h1.15M507.5 826.1h1.15M496.4 831.8h1.15M573.5 766.6h1.15M498.8 811.3h1.15M501.2 763.8h1.15M567.2 788.3h1.15M562.3 766.0h1.15M517.7 808.2h1.15M473.3 771.6h1.15M549.9 825.3h1.15M582.9 765.2h1.15M529.5 813.7h1.15M529.2 808.2h1.15M493.0 761.8h1.15M483.5 759.3h1.15M534.8 795.3h1.15M536.8 767.5h1.15M492.5 771.8h1.15M568.1 831.2h1.15M578.1 763.6h1.15M478.4 828.3h1.15M524.5 814.2h1.15M508.9 791.7h1.15M530.6 788.9h1.15M540.5 757.4h1.15M552.0 820.2h1.15M492.1 790.7h1.15M556.5 787.1h1.15M493.7 768.9h1.15M530.3 757.6h1.15M574.2 817.0h1.15M552.5 821.4h1.15M543.8 787.0h1.15M540.4 794.5h1.15M584.5 817.2h1.15M501.0 825.3h1.15M557.0 815.2h1.15M565.1 787.1h1.15M574.6 822.9h1.15M551.3 814.4h1.15M559.4 787.1h1.15M554.5 761.8h1.15M510.6 791.9h1.15M472.5 783.3h1.15M544.9 803.6h1.15M498.0 827.8h1.15M548.0 782.0h1.15M547.3 799.5h1.15M532.7 785.9h1.15M586.5 804.9h1.15M552.1 814.0h1.15M584.2 758.2h1.15M542.2 812.2h1.15M500.8 786.8h1.15M477.1 771.2h1.15M514.5 763.9h1.15M500.2 824.8h1.15M534.6 794.8h1.15M582.7 799.3h1.15M585.9 804.6h1.15M564.5 762.2h1.15M540.1 813.8h1.15M476.4 826.7h1.15M489.7 792.1h1.15M490.7 793.9h1.15M445.6 792.1h1.15M456.3 816.1h1.15M442.9 827.8h1.15M437.8 807.2h1.15M447.0 825.4h1.15M435.2 835.7h1.15M435.6 789.2h1.15M434.0 791.1h1.15M431.3 943.5h1.15M435.0 950.3h1.15M440.7 909.9h1.15M444.6 952.5h1.15M430.0 950.7h1.15M586.7 915.1h1.15M615.6 911.4h1.15M591.7 922.4h1.15M611.3 783.0h1.15M643.3 803.6h1.15M608.1 802.3h1.15M601.9 790.9h1.15M615.8 816.9h1.15M606.3 807.3h1.15M592.2 821.9h1.15M602.4 814.6h1.15M599.9 797.2h1.15M617.7 780.6h1.15M613.2 791.9h1.15M639.7 842.5h1.15M619.1 776.8h1.15M606.3 824.1h1.15M606.2 781.2h1.15M595.4 791.0h1.15M614.5 794.0h1.15M642.5 784.7h1.15M619.8 811.5h1.15M612.1 834.3h1.15M609.0 801.7h1.15M608.4 807.0h1.15M634.8 827.9h1.15M593.0 798.9h1.15M601.6 828.9h1.15M617.9 830.7h1.15M613.3 763.9h1.15M621.5 814.9h1.15M622.4 778.4h1.15M615.6 793.0h1.15M603.4 817.9h1.15M619.9 788.2h1.15M605.2 836.2h1.15M600.6 819.5h1.15M640.9 837.3h1.15M620.2 814.1h1.15M597.5 798.7h1.15M609.0 791.0h1.15M615.3 800.1h1.15M619.7 843.6h1.15M626.1 819.4h1.15M610.5 773.2h1.15M612.5 822.4h1.15M598.3 839.3h1.15M609.0 818.3h1.15M609.1 779.5h1.15M647.2 781.7h1.15M628.9 796.2h1.15M618.8 790.2h1.15M607.7 831.4h1.15M645.3 789.2h1.15M614.5 832.0h1.15M604.3 826.4h1.15M601.8 823.8h1.15M621.3 838.3h1.15M620.1 781.0h1.15M624.9 783.2h1.15M626.3 845.5h1.15M623.8 796.2h1.15M633.3 813.4h1.15M594.5 801.0h1.15M636.9 802.2h1.15M616.3 801.3h1.15M620.0 814.4h1.15M633.7 826.6h1.15M935.0 788.7h1.15M884.5 772.5h1.15M910.6 791.8h1.15M841.7 775.7h1.15M875.1 782.4h1.15M857.0 778.1h1.15M890.0 764.6h1.15M930.3 773.2h1.15M923.3 766.5h1.15M937.5 765.4h1.15M936.1 762.3h1.15M846.2 775.7h1.15M911.4 769.2h1.15M882.8 779.9h1.15M885.0 781.3h1.15M910.0 786.2h1.15M876.0 799.3h1.15M927.3 780.3h1.15M937.2 785.7h1.15M903.3 772.4h1.15M935.1 781.2h1.15M834.6 768.3h1.15M915.9 778.6h1.15M909.4 783.1h1.15M904.8 791.1h1.15M879.5 774.3h1.15M910.9 784.0h1.15M926.9 790.3h1.15M883.4 787.5h1.15M915.9 768.8h1.15M895.1 795.3h1.15M926.8 773.7h1.15M875.6 778.3h1.15M910.6 769.7h1.15M858.9 775.9h1.15M883.7 803.1h1.15M885.9 772.4h1.15M938.7 778.3h1.15M857.3 788.6h1.15M889.0 766.4h1.15M910.9 781.8h1.15M888.1 783.6h1.15M928.1 770.2h1.15M828.9 757.4h1.15M895.4 788.1h1.15M934.3 789.4h1.15M936.2 764.7h1.15M923.5 781.0h1.15M896.5 773.9h1.15M861.3 778.8h1.15M918.1 772.0h1.15M908.5 769.1h1.15M912.8 775.8h1.15M910.6 772.5h1.15M859.3 774.9h1.15M935.5 791.0h1.15M888.6 784.4h1.15M925.9 781.0h1.15M846.3 780.4h1.15M866.4 787.6h1.15M926.9 782.9h1.15M923.9 766.8h1.15M933.2 778.3h1.15M893.5 771.6h1.15M864.7 774.0h1.15M906.9 772.1h1.15M878.5 773.0h1.15M869.3 785.1h1.15M890.5 785.0h1.15M860.0 785.5h1.15M898.9 783.3h1.15M896.2 770.1h1.15M941.5 774.0h1.15M894.7 770.1h1.15M906.8 774.3h1.15M909.5 780.6h1.15M876.1 765.7h1.15M914.7 785.4h1.15M923.8 767.9h1.15M920.6 780.9h1.15M909.6 781.3h1.15M888.6 779.5h1.15M931.7 773.4h1.15M850.2 776.8h1.15M906.5 762.0h1.15M876.5 782.6h1.15M894.6 778.4h1.15M856.4 785.3h1.15M874.6 767.8h1.15M930.5 778.5h1.15M872.4 787.9h1.15M926.1 782.8h1.15M839.2 776.8h1.15M921.3 767.3h1.15M931.8 789.8h1.15M935.4 771.5h1.15M875.4 785.6h1.15M934.0 788.1h1.15M941.1 776.8h1.15M885.7 761.9h1.15M926.8 796.9h1.15M883.8 773.6h1.15M922.1 780.8h1.15M852.6 771.6h1.15M862.0 794.8h1.15M875.1 784.9h1.15M857.2 774.7h1.15M874.7 775.2h1.15M919.0 767.2h1.15M882.2 795.2h1.15M902.4 788.7h1.15M910.5 772.9h1.15M886.7 776.6h1.15M921.0 778.7h1.15M883.7 771.5h1.15M873.0 765.4h1.15M865.8 785.3h1.15M901.9 776.2h1.15M911.8 786.7h1.15M921.0 784.2h1.15M880.5 775.4h1.15M873.0 776.8h1.15M871.6 774.5h1.15M893.8 775.8h1.15M890.6 773.5h1.15M864.9 779.3h1.15M862.3 768.5h1.15M902.7 763.5h1.15M935.4 763.5h1.15M868.9 782.5h1.15M831.3 770.2h1.15M858.3 776.0h1.15M831.8 785.2h1.15M894.8 780.2h1.15M888.5 759.7h1.15M894.5 766.3h1.15M900.1 770.4h1.15M888.9 775.9h1.15M926.4 784.1h1.15M865.2 777.5h1.15M874.7 776.6h1.15M887.8 785.6h1.15M900.9 780.8h1.15M864.9 763.0h1.15M844.9 784.9h1.15M909.8 791.5h1.15M831.8 770.2h1.15M930.3 785.0h1.15M900.9 777.6h1.15M900.9 784.8h1.15M894.2 780.4h1.15M873.9 782.4h1.15M890.7 776.3h1.15M885.4 787.0h1.15M876.7 778.6h1.15M877.9 796.1h1.15M917.9 774.3h1.15M916.7 770.9h1.15M878.9 778.5h1.15M914.3 789.1h1.15M925.3 793.9h1.15M915.3 778.9h1.15M895.3 770.4h1.15M895.5 773.2h1.15M872.7 758.8h1.15M886.6 778.8h1.15M904.7 784.8h1.15M894.2 772.2h1.15M910.4 783.3h1.15M868.6 764.8h1.15M864.5 786.6h1.15M934.2 770.1h1.15M903.6 784.8h1.15M891.5 789.6h1.15M860.5 781.4h1.15M889.5 777.1h1.15M876.9 773.6h1.15M899.4 792.9h1.15M923.9 781.3h1.15M900.7 771.3h1.15M891.9 788.2h1.15M928.4 794.3h1.15M908.8 777.5h1.15M844.0 781.0h1.15M840.4 790.6h1.15M878.1 777.6h1.15M853.2 773.4h1.15M867.7 787.2h1.15M908.3 767.6h1.15M833.3 777.1h1.15M883.0 768.2h1.15M920.1 776.1h1.15M903.6 772.6h1.15M880.1 773.7h1.15M844.6 783.0h1.15M913.7 763.0h1.15M903.3 787.4h1.15M907.9 788.6h1.15M890.5 777.7h1.15M855.0 770.0h1.15M837.0 770.1h1.15M908.2 782.0h1.15M939.9 778.8h1.15M865.7 781.3h1.15M894.8 792.8h1.15M860.6 773.2h1.15M906.3 771.6h1.15M917.8 783.5h1.15M928.7 779.6h1.15M869.3 770.5h1.15M853.9 800.9h1.15M832.4 818.4h1.15M842.5 775.7h1.15M841.1 808.6h1.15M922.9 815.9h1.15M829.1 787.5h1.15M866.0 772.8h1.15M939.9 759.6h1.15M881.3 813.9h1.15M941.8 767.4h1.15M877.1 812.7h1.15M826.4 774.6h1.15M930.1 767.1h1.15M869.5 779.0h1.15M873.3 762.2h1.15M825.8 831.7h1.15M914.6 811.9h1.15M849.6 775.6h1.15M888.9 774.7h1.15M877.9 826.9h1.15M866.0 781.9h1.15M941.2 802.6h1.15M826.5 786.9h1.15M900.8 760.9h1.15M863.4 808.9h1.15M927.0 801.0h1.15M929.7 791.4h1.15M869.5 820.1h1.15M868.1 815.4h1.15M847.9 782.7h1.15M844.0 797.9h1.15M841.6 771.8h1.15M847.8 791.8h1.15M859.2 790.2h1.15M942.7 807.7h1.15M926.8 771.9h1.15M868.3 761.9h1.15M905.9 783.8h1.15M855.1 757.8h1.15M843.8 776.3h1.15M869.5 826.2h1.15M908.8 776.7h1.15M865.6 768.0h1.15M935.8 783.6h1.15M914.9 811.1h1.15M932.2 758.0h1.15M860.9 785.5h1.15M831.8 823.1h1.15M861.3 814.6h1.15M884.9 760.6h1.15M869.6 774.4h1.15M826.6 767.8h1.15M894.2 758.8h1.15M859.7 788.5h1.15M887.9 766.7h1.15M907.7 776.1h1.15M910.0 806.8h1.15M839.6 771.9h1.15M855.8 810.3h1.15M871.0 785.6h1.15M927.2 773.5h1.15M857.2 782.5h1.15M847.9 759.5h1.15M824.6 804.0h1.15M890.6 817.5h1.15M940.5 779.0h1.15M903.3 825.8h1.15M848.0 808.5h1.15M902.9 828.6h1.15M927.5 774.2h1.15M898.7 763.2h1.15M873.7 786.1h1.15M828.9 785.4h1.15M861.6 794.0h1.15M855.7 768.4h1.15M870.7 792.3h1.15M841.9 806.7h1.15M850.8 763.5h1.15M863.3 788.3h1.15M840.0 800.4h1.15M907.1 798.2h1.15M907.0 758.2h1.15M869.3 784.0h1.15M829.3 787.0h1.15M828.3 793.9h1.15M893.0 791.9h1.15M861.3 775.6h1.15M824.5 782.7h1.15M930.3 799.2h1.15M853.5 806.9h1.15M844.3 791.9h1.15M896.6 828.5h1.15M865.8 800.0h1.15M936.5 814.7h1.15M898.1 803.3h1.15M796.8 794.8h1.15M792.3 827.7h1.15M812.3 792.1h1.15M813.3 764.8h1.15M787.7 802.1h1.15M793.4 790.4h1.15M815.6 773.7h1.15M789.6 779.9h1.15M805.7 780.4h1.15M783.2 805.0h1.15M796.2 780.8h1.15M799.5 813.4h1.15M801.4 811.4h1.15M801.8 827.8h1.15M815.3 788.3h1.15M794.7 832.2h1.15M793.6 818.7h1.15M806.2 816.3h1.15M815.1 827.3h1.15M788.5 811.2h1.15M799.4 806.6h1.15M795.4 784.5h1.15M971.2 768.7h1.15M972.4 821.5h1.15M966.4 816.3h1.15M962.4 800.3h1.15M977.3 805.4h1.15M992.9 826.3h1.15M985.7 820.4h1.15M974.1 771.4h1.15M975.2 795.1h1.15M970.8 833.0h1.15M976.3 776.2h1.15M968.5 781.8h1.15M968.0 778.5h1.15M956.7 840.1h1.15M989.1 759.9h1.15M954.9 790.1h1.15M964.9 765.8h1.15M986.4 759.9h1.15M983.2 819.7h1.15M965.3 784.7h1.15M972.5 805.5h1.15M980.4 798.9h1.15M964.5 776.0h1.15M959.6 781.9h1.15M997.3 814.1h1.15M975.1 806.8h1.15M965.1 843.3h1.15M980.0 801.0h1.15M969.4 806.9h1.15M952.2 793.4h1.15M961.0 817.8h1.15M967.7 827.3h1.15M949.7 771.1h1.15M988.3 798.4h1.15M963.9 770.2h1.15M974.3 787.3h1.15M975.0 812.7h1.15M983.3 793.3h1.15M962.6 802.5h1.15M969.8 806.2h1.15M962.5 795.6h1.15M961.6 786.5h1.15M974.1 831.6h1.15M962.4 816.8h1.15M977.3 804.5h1.15M982.9 787.3h1.15M981.0 809.4h1.15M953.6 804.2h1.15M977.4 776.6h1.15M991.7 813.4h1.15M958.0 770.6h1.15M969.6 785.2h1.15M981.6 804.2h1.15M976.3 808.6h1.15M953.1 835.8h1.15M963.7 831.1h1.15M983.1 802.7h1.15M973.8 800.5h1.15M978.7 759.8h1.15M985.1 761.5h1.15M979.2 800.4h1.15M988.0 793.2h1.15M967.7 782.2h1.15M974.5 798.4h1.15M960.4 792.7h1.15M958.7 817.9h1.15M954.0 761.2h1.15M955.1 829.9h1.15M962.8 818.5h1.15M983.9 788.4h1.15M984.2 814.8h1.15M970.7 783.3h1.15M970.4 768.2h1.15M966.8 786.5h1.15M978.9 810.6h1.15M960.5 824.2h1.15M991.6 803.3h1.15M958.9 814.8h1.15M958.9 841.5h1.15M974.7 828.1h1.15M968.4 785.5h1.15M967.5 840.9h1.15M985.7 793.9h1.15M977.9 824.3h1.15M981.1 800.5h1.15M960.2 782.1h1.15M964.0 787.1h1.15M986.3 772.2h1.15M949.0 800.4h1.15M996.1 834.7h1.15M964.3 774.4h1.15M962.2 777.7h1.15M962.0 814.2h1.15M953.2 781.1h1.15M966.9 800.8h1.15M811.8 909.3h1.15M810.5 911.6h1.15M823.1 904.6h1.15M805.9 918.0h1.15M815.9 907.2h1.15M861.0 263.1h1.15M852.1 259.3h1.15M844.8 263.2h1.15M854.5 239.1h1.15M863.8 252.3h1.15M866.3 258.0h1.15M862.6 247.9h1.15M867.8 233.7h1.15M864.5 254.3h1.15M848.1 257.3h1.15M799.1 267.1h1.15M811.1 258.1h1.15M794.0 269.9h1.15M788.0 267.6h1.15M586.1 247.3h1.15M534.1 257.1h1.15M592.5 256.2h1.15M563.4 260.5h1.15M587.0 236.5h1.15M545.9 234.9h1.15M252.4 492.6h1.15M276.6 513.3h1.15M254.8 485.7h1.15M262.7 514.0h1.15M269.4 516.2h1.15M253.5 519.9h1.15M257.4 504.7h1.15M276.9 508.8h1.15M570.2 552.3h1.15M577.7 510.8h1.15M574.8 529.8h1.15M584.0 527.5h1.15M583.2 554.0h1.15M569.7 517.9h1.15M586.0 539.4h1.15M568.1 517.2h1.15M593.9 548.6h1.15M575.3 522.3h1.15M595.6 553.8h1.15M587.4 532.7h1.15M573.8 535.7h1.15M568.6 549.9h1.15M577.5 561.9h1.15M577.0 538.8h1.15M580.1 569.7h1.15M575.0 554.5h1.15M571.5 546.6h1.15M573.0 565.3h1.15M573.1 564.1h1.15M585.5 538.7h1.15M593.7 534.4h1.15M587.6 548.0h1.15M578.2 513.9h1.15M985.1 530.8h1.15M985.7 555.8h1.15M981.7 546.2h1.15M991.8 529.5h1.15M984.9 525.3h1.15M997.7 529.7h1.15" stroke="#3b57a7" stroke-width="1.15" stroke-opacity="0.85" fill="none"/>
<rect x="67.0" y="38.4" width="240.6" height="240.2" fill="none" stroke="#555" stroke-width="0.9"/><path d="M67.0 38.4V278.6H307.6" fill="none" stroke="#222" stroke-width="1.1"/><rect x="67.0" y="386.4" width="240.6" height="240.2" fill="none" stroke="#555" stroke-width="0.9"/><path d="M67.0 386.4V626.6H307.6" fill="none" stroke="#222" stroke-width="1.1"/><rect x="67.0" y="735.8" width="240.6" height="240.2" fill="none" stroke="#555" stroke-width="0.9"/><path d="M67.0 735.8V976.0H307.6" fill="none" stroke="#222" stroke-width="1.1"/><rect x="423.7" y="38.4" width="240.6" height="240.2" fill="none" stroke="#555" stroke-width="0.9"/><path d="M423.7 38.4V278.6H664.3" fill="none" stroke="#222" stroke-width="1.1"/><rect x="423.7" y="386.4" width="240.6" height="240.2" fill="none" stroke="#555" stroke-width="0.9"/><path d="M423.7 386.4V626.6H664.3" fill="none" stroke="#222" stroke-width="1.1"/><rect x="423.7" y="735.8" width="240.6" height="240.2" fill="none" stroke="#555" stroke-width="0.9"/><path d="M423.7 735.8V976.0H664.3" fill="none" stroke="#222" stroke-width="1.1"/><rect x="780.2" y="38.4" width="240.6" height="240.2" fill="none" stroke="#555" stroke-width="0.9"/><path d="M780.2 38.4V278.6H1020.8" fill="none" stroke="#222" stroke-width="1.1"/><rect x="780.2" y="386.4" width="240.6" height="240.2" fill="none" stroke="#555" stroke-width="0.9"/><path d="M780.2 386.4V626.6H1020.8" fill="none" stroke="#222" stroke-width="1.1"/><rect x="780.2" y="735.8" width="240.6" height="240.2" fill="none" stroke="#555" stroke-width="0.9"/><path d="M780.2 735.8V976.0H1020.8" fill="none" stroke="#222" stroke-width="1.1"/><polygon points="69.6,40.1 286.6,40.1 287.7,239.1 129.5,277.5 98.2,277.5 69.6,244.4" fill="none" stroke="#0a0a0a" stroke-width="3.8" stroke-linejoin="miter"/><polygon points="426.2,276.7 428.1,263.5 610.3,54.1 640.0,103.7 433.4,276.7" fill="none" stroke="#0a0a0a" stroke-width="3.4" stroke-linejoin="miter"/><polygon points="791.9,159.6 825.6,147.4 901.1,134.2 957.3,134.2 956.7,242.8 791.9,242.8" fill="none" stroke="#0a0a0a" stroke-width="3.4" stroke-linejoin="miter"/><polygon points="147.0,454.7 272.6,454.7 272.6,621.6 147.0,621.6" fill="none" stroke="#0a0a0a" stroke-width="3.4" stroke-linejoin="miter"/><polygon points="513.1,432.9 604.3,432.9 604.3,620.5 513.1,620.5" fill="none" stroke="#0a0a0a" stroke-width="3.4" stroke-linejoin="miter"/><polygon points="890.5,439.6 988.5,439.6 988.5,605.2 890.5,605.2" fill="none" stroke="#0a0a0a" stroke-width="3.4" stroke-linejoin="miter"/><polygon points="105.6,749.3 232.8,749.3 232.8,833.8 105.6,833.8" fill="none" stroke="#0a0a0a" stroke-width="3.4" stroke-linejoin="miter"/><polygon points="462.0,749.3 589.7,749.3 589.7,834.1 462.0,834.1" fill="none" stroke="#0a0a0a" stroke-width="3.4" stroke-linejoin="miter"/><polygon points="818.4,749.3 946.2,749.3 946.2,834.1 818.4,834.1" fill="none" stroke="#0a0a0a" stroke-width="3.4" stroke-linejoin="miter"/><path d="M59.8 49.4H67.0" stroke="#111" stroke-width="1.7"/><path d="M63.4 60.8H67.0" stroke="#222" stroke-width="1"/><path d="M63.4 72.3H67.0" stroke="#222" stroke-width="1"/><path d="M63.4 83.8H67.0" stroke="#222" stroke-width="1"/><path d="M59.8 95.2H67.0" stroke="#111" stroke-width="1.7"/><path d="M63.4 106.6H67.0" stroke="#222" stroke-width="1"/><path d="M63.4 118.1H67.0" stroke="#222" stroke-width="1"/><path d="M63.4 129.6H67.0" stroke="#222" stroke-width="1"/><path d="M59.8 141.0H67.0" stroke="#111" stroke-width="1.7"/><path d="M63.4 152.4H67.0" stroke="#222" stroke-width="1"/><path d="M63.4 163.9H67.0" stroke="#222" stroke-width="1"/><path d="M63.4 175.3H67.0" stroke="#222" stroke-width="1"/><path d="M59.8 186.8H67.0" stroke="#111" stroke-width="1.7"/><path d="M63.4 198.2H67.0" stroke="#222" stroke-width="1"/><path d="M63.4 209.7H67.0" stroke="#222" stroke-width="1"/><path d="M63.4 221.1H67.0" stroke="#222" stroke-width="1"/><path d="M59.8 232.6H67.0" stroke="#111" stroke-width="1.7"/><path d="M63.4 244.0H67.0" stroke="#222" stroke-width="1"/><path d="M63.4 255.5H67.0" stroke="#222" stroke-width="1"/><path d="M63.4 266.9H67.0" stroke="#222" stroke-width="1"/><path d="M59.8 278.4H67.0" stroke="#111" stroke-width="1.7"/><path d="M416.5 49.4H423.7" stroke="#111" stroke-width="1.7"/><path d="M420.1 60.8H423.7" stroke="#222" stroke-width="1"/><path d="M420.1 72.3H423.7" stroke="#222" stroke-width="1"/><path d="M420.1 83.8H423.7" stroke="#222" stroke-width="1"/><path d="M416.5 95.2H423.7" stroke="#111" stroke-width="1.7"/><path d="M420.1 106.6H423.7" stroke="#222" stroke-width="1"/><path d="M420.1 118.1H423.7" stroke="#222" stroke-width="1"/><path d="M420.1 129.6H423.7" stroke="#222" stroke-width="1"/><path d="M416.5 141.0H423.7" stroke="#111" stroke-width="1.7"/><path d="M420.1 152.4H423.7" stroke="#222" stroke-width="1"/><path d="M420.1 163.9H423.7" stroke="#222" stroke-width="1"/><path d="M420.1 175.3H423.7" stroke="#222" stroke-width="1"/><path d="M416.5 186.8H423.7" stroke="#111" stroke-width="1.7"/><path d="M420.1 198.2H423.7" stroke="#222" stroke-width="1"/><path d="M420.1 209.7H423.7" stroke="#222" stroke-width="1"/><path d="M420.1 221.1H423.7" stroke="#222" stroke-width="1"/><path d="M416.5 232.6H423.7" stroke="#111" stroke-width="1.7"/><path d="M420.1 244.0H423.7" stroke="#222" stroke-width="1"/><path d="M420.1 255.5H423.7" stroke="#222" stroke-width="1"/><path d="M420.1 266.9H423.7" stroke="#222" stroke-width="1"/><path d="M416.5 278.4H423.7" stroke="#111" stroke-width="1.7"/><path d="M67.2 278.6V285.2" stroke="#111" stroke-width="1.5"/><path d="M77.6 278.6V282.2" stroke="#222" stroke-width="1"/><path d="M88.0 278.6V282.2" stroke="#222" stroke-width="1"/><path d="M98.4 278.6V282.2" stroke="#222" stroke-width="1"/><path d="M108.8 278.6V285.2" stroke="#111" stroke-width="1.5"/><path d="M119.1 278.6V282.2" stroke="#222" stroke-width="1"/><path d="M129.5 278.6V282.2" stroke="#222" stroke-width="1"/><path d="M139.9 278.6V282.2" stroke="#222" stroke-width="1"/><path d="M150.3 278.6V285.2" stroke="#111" stroke-width="1.5"/><path d="M160.7 278.6V282.2" stroke="#222" stroke-width="1"/><path d="M171.1 278.6V282.2" stroke="#222" stroke-width="1"/><path d="M181.5 278.6V282.2" stroke="#222" stroke-width="1"/><path d="M191.8 278.6V285.2" stroke="#111" stroke-width="1.5"/><path d="M202.2 278.6V282.2" stroke="#222" stroke-width="1"/><path d="M212.6 278.6V282.2" stroke="#222" stroke-width="1"/><path d="M223.0 278.6V282.2" stroke="#222" stroke-width="1"/><path d="M233.4 278.6V285.2" stroke="#111" stroke-width="1.5"/><path d="M243.8 278.6V282.2" stroke="#222" stroke-width="1"/><path d="M254.2 278.6V282.2" stroke="#222" stroke-width="1"/><path d="M264.6 278.6V282.2" stroke="#222" stroke-width="1"/><path d="M274.9 278.6V285.2" stroke="#111" stroke-width="1.5"/><path d="M285.3 278.6V282.2" stroke="#222" stroke-width="1"/><path d="M295.7 278.6V282.2" stroke="#222" stroke-width="1"/><path d="M306.1 278.6V282.2" stroke="#222" stroke-width="1"/><path d="M423.9 278.6V285.2" stroke="#111" stroke-width="1.5"/><path d="M434.3 278.6V282.2" stroke="#222" stroke-width="1"/><path d="M444.7 278.6V282.2" stroke="#222" stroke-width="1"/><path d="M455.1 278.6V282.2" stroke="#222" stroke-width="1"/><path d="M465.4 278.6V285.2" stroke="#111" stroke-width="1.5"/><path d="M475.8 278.6V282.2" stroke="#222" stroke-width="1"/><path d="M486.2 278.6V282.2" stroke="#222" stroke-width="1"/><path d="M496.6 278.6V282.2" stroke="#222" stroke-width="1"/><path d="M507.0 278.6V285.2" stroke="#111" stroke-width="1.5"/><path d="M517.4 278.6V282.2" stroke="#222" stroke-width="1"/><path d="M527.8 278.6V282.2" stroke="#222" stroke-width="1"/><path d="M538.2 278.6V282.2" stroke="#222" stroke-width="1"/><path d="M548.5 278.6V285.2" stroke="#111" stroke-width="1.5"/><path d="M558.9 278.6V282.2" stroke="#222" stroke-width="1"/><path d="M569.3 278.6V282.2" stroke="#222" stroke-width="1"/><path d="M579.7 278.6V282.2" stroke="#222" stroke-width="1"/><path d="M590.1 278.6V285.2" stroke="#111" stroke-width="1.5"/><path d="M600.5 278.6V282.2" stroke="#222" stroke-width="1"/><path d="M610.9 278.6V282.2" stroke="#222" stroke-width="1"/><path d="M621.3 278.6V282.2" stroke="#222" stroke-width="1"/><path d="M631.6 278.6V285.2" stroke="#111" stroke-width="1.5"/><path d="M642.0 278.6V282.2" stroke="#222" stroke-width="1"/><path d="M652.4 278.6V282.2" stroke="#222" stroke-width="1"/><path d="M662.8 278.6V282.2" stroke="#222" stroke-width="1"/><path d="M780.2 278.6V285.2" stroke="#111" stroke-width="1.5"/><path d="M791.6 278.6V282.2" stroke="#222" stroke-width="1"/><path d="M803.0 278.6V282.2" stroke="#222" stroke-width="1"/><path d="M814.4 278.6V282.2" stroke="#222" stroke-width="1"/><path d="M825.8 278.6V285.2" stroke="#111" stroke-width="1.5"/><path d="M837.2 278.6V282.2" stroke="#222" stroke-width="1"/><path d="M848.6 278.6V282.2" stroke="#222" stroke-width="1"/><path d="M860.0 278.6V282.2" stroke="#222" stroke-width="1"/><path d="M871.4 278.6V285.2" stroke="#111" stroke-width="1.5"/><path d="M882.8 278.6V282.2" stroke="#222" stroke-width="1"/><path d="M894.2 278.6V282.2" stroke="#222" stroke-width="1"/><path d="M905.6 278.6V282.2" stroke="#222" stroke-width="1"/><path d="M917.0 278.6V285.2" stroke="#111" stroke-width="1.5"/><path d="M928.4 278.6V282.2" stroke="#222" stroke-width="1"/><path d="M939.8 278.6V282.2" stroke="#222" stroke-width="1"/><path d="M951.2 278.6V282.2" stroke="#222" stroke-width="1"/><path d="M962.6 278.6V285.2" stroke="#111" stroke-width="1.5"/><path d="M974.0 278.6V282.2" stroke="#222" stroke-width="1"/><path d="M985.4 278.6V282.2" stroke="#222" stroke-width="1"/><path d="M996.8 278.6V282.2" stroke="#222" stroke-width="1"/><path d="M1008.2 278.6V285.2" stroke="#111" stroke-width="1.5"/><path d="M1019.6 278.6V282.2" stroke="#222" stroke-width="1"/><path d="M773.6 39.4H780.2" stroke="#111" stroke-width="1.5"/><path d="M773.6 82.3H780.2" stroke="#111" stroke-width="1.5"/><path d="M773.6 124.4H780.2" stroke="#111" stroke-width="1.5"/><path d="M773.6 170.3H780.2" stroke="#111" stroke-width="1.5"/><path d="M773.6 220.1H780.2" stroke="#111" stroke-width="1.5"/><path d="M773.6 256.6H780.2" stroke="#111" stroke-width="1.5"/><path d="M776.9 69.4H780.2" stroke="#222" stroke-width="0.9"/><path d="M776.9 61.8H780.2" stroke="#222" stroke-width="0.9"/><path d="M776.9 56.5H780.2" stroke="#222" stroke-width="0.9"/><path d="M776.9 52.3H780.2" stroke="#222" stroke-width="0.9"/><path d="M776.9 48.9H780.2" stroke="#222" stroke-width="0.9"/><path d="M776.9 46.0H780.2" stroke="#222" stroke-width="0.9"/><path d="M776.9 43.6H780.2" stroke="#222" stroke-width="0.9"/><path d="M776.9 41.4H780.2" stroke="#222" stroke-width="0.9"/><path d="M776.9 111.7H780.2" stroke="#222" stroke-width="0.9"/><path d="M776.9 104.3H780.2" stroke="#222" stroke-width="0.9"/><path d="M776.9 99.1H780.2" stroke="#222" stroke-width="0.9"/><path d="M776.9 95.0H780.2" stroke="#222" stroke-width="0.9"/><path d="M776.9 91.6H780.2" stroke="#222" stroke-width="0.9"/><path d="M776.9 88.8H780.2" stroke="#222" stroke-width="0.9"/><path d="M776.9 86.4H780.2" stroke="#222" stroke-width="0.9"/><path d="M776.9 84.2H780.2" stroke="#222" stroke-width="0.9"/><path d="M776.9 156.5H780.2" stroke="#222" stroke-width="0.9"/><path d="M776.9 148.4H780.2" stroke="#222" stroke-width="0.9"/><path d="M776.9 142.7H780.2" stroke="#222" stroke-width="0.9"/><path d="M776.9 138.2H780.2" stroke="#222" stroke-width="0.9"/><path d="M776.9 134.6H780.2" stroke="#222" stroke-width="0.9"/><path d="M776.9 131.5H780.2" stroke="#222" stroke-width="0.9"/><path d="M776.9 128.8H780.2" stroke="#222" stroke-width="0.9"/><path d="M776.9 126.5H780.2" stroke="#222" stroke-width="0.9"/><path d="M776.9 205.1H780.2" stroke="#222" stroke-width="0.9"/><path d="M776.9 196.3H780.2" stroke="#222" stroke-width="0.9"/><path d="M776.9 190.1H780.2" stroke="#222" stroke-width="0.9"/><path d="M776.9 185.3H780.2" stroke="#222" stroke-width="0.9"/><path d="M776.9 181.3H780.2" stroke="#222" stroke-width="0.9"/><path d="M776.9 178.0H780.2" stroke="#222" stroke-width="0.9"/><path d="M776.9 175.1H780.2" stroke="#222" stroke-width="0.9"/><path d="M776.9 172.6H780.2" stroke="#222" stroke-width="0.9"/><path d="M776.6 220.1H780.2" stroke="#111" stroke-width="1.1"/><path d="M776.6 222.4H780.2" stroke="#111" stroke-width="1.1"/><path d="M776.6 224.7H780.2" stroke="#111" stroke-width="1.1"/><path d="M776.6 227.0H780.2" stroke="#111" stroke-width="1.1"/><path d="M776.6 229.3H780.2" stroke="#111" stroke-width="1.1"/><path d="M776.6 231.6H780.2" stroke="#111" stroke-width="1.1"/><path d="M776.6 233.9H780.2" stroke="#111" stroke-width="1.1"/><path d="M776.6 236.2H780.2" stroke="#111" stroke-width="1.1"/><path d="M776.6 238.5H780.2" stroke="#111" stroke-width="1.1"/><path d="M776.6 240.8H780.2" stroke="#111" stroke-width="1.1"/><path d="M776.6 243.1H780.2" stroke="#111" stroke-width="1.1"/><path d="M776.6 245.4H780.2" stroke="#111" stroke-width="1.1"/><path d="M776.6 247.7H780.2" stroke="#111" stroke-width="1.1"/><path d="M776.6 250.0H780.2" stroke="#111" stroke-width="1.1"/><path d="M776.6 252.3H780.2" stroke="#111" stroke-width="1.1"/><path d="M776.6 254.6H780.2" stroke="#111" stroke-width="1.1"/><rect x="773.6" y="236.2" width="6.6" height="5.6" fill="#111"/><path d="M776.9 271.1H780.2" stroke="#222" stroke-width="0.9"/><path d="M59.8 397.2H67.0" stroke="#111" stroke-width="1.7"/><path d="M63.4 408.6H67.0" stroke="#222" stroke-width="1"/><path d="M63.4 420.1H67.0" stroke="#222" stroke-width="1"/><path d="M63.4 431.5H67.0" stroke="#222" stroke-width="1"/><path d="M59.8 442.9H67.0" stroke="#111" stroke-width="1.7"/><path d="M63.4 454.3H67.0" stroke="#222" stroke-width="1"/><path d="M63.4 465.8H67.0" stroke="#222" stroke-width="1"/><path d="M63.4 477.2H67.0" stroke="#222" stroke-width="1"/><path d="M59.8 488.6H67.0" stroke="#111" stroke-width="1.7"/><path d="M63.4 500.1H67.0" stroke="#222" stroke-width="1"/><path d="M63.4 511.5H67.0" stroke="#222" stroke-width="1"/><path d="M63.4 522.9H67.0" stroke="#222" stroke-width="1"/><path d="M59.8 534.4H67.0" stroke="#111" stroke-width="1.7"/><path d="M63.4 545.8H67.0" stroke="#222" stroke-width="1"/><path d="M63.4 557.2H67.0" stroke="#222" stroke-width="1"/><path d="M63.4 568.6H67.0" stroke="#222" stroke-width="1"/><path d="M59.8 580.1H67.0" stroke="#111" stroke-width="1.7"/><path d="M63.4 591.5H67.0" stroke="#222" stroke-width="1"/><path d="M63.4 602.9H67.0" stroke="#222" stroke-width="1"/><path d="M63.4 614.4H67.0" stroke="#222" stroke-width="1"/><path d="M59.8 625.8H67.0" stroke="#111" stroke-width="1.7"/><path d="M416.5 397.2H423.7" stroke="#111" stroke-width="1.7"/><path d="M420.1 408.6H423.7" stroke="#222" stroke-width="1"/><path d="M420.1 420.1H423.7" stroke="#222" stroke-width="1"/><path d="M420.1 431.5H423.7" stroke="#222" stroke-width="1"/><path d="M416.5 442.9H423.7" stroke="#111" stroke-width="1.7"/><path d="M420.1 454.3H423.7" stroke="#222" stroke-width="1"/><path d="M420.1 465.8H423.7" stroke="#222" stroke-width="1"/><path d="M420.1 477.2H423.7" stroke="#222" stroke-width="1"/><path d="M416.5 488.6H423.7" stroke="#111" stroke-width="1.7"/><path d="M420.1 500.1H423.7" stroke="#222" stroke-width="1"/><path d="M420.1 511.5H423.7" stroke="#222" stroke-width="1"/><path d="M420.1 522.9H423.7" stroke="#222" stroke-width="1"/><path d="M416.5 534.4H423.7" stroke="#111" stroke-width="1.7"/><path d="M420.1 545.8H423.7" stroke="#222" stroke-width="1"/><path d="M420.1 557.2H423.7" stroke="#222" stroke-width="1"/><path d="M420.1 568.6H423.7" stroke="#222" stroke-width="1"/><path d="M416.5 580.1H423.7" stroke="#111" stroke-width="1.7"/><path d="M420.1 591.5H423.7" stroke="#222" stroke-width="1"/><path d="M420.1 602.9H423.7" stroke="#222" stroke-width="1"/><path d="M420.1 614.4H423.7" stroke="#222" stroke-width="1"/><path d="M416.5 625.8H423.7" stroke="#111" stroke-width="1.7"/><path d="M773.0 397.2H780.2" stroke="#111" stroke-width="1.7"/><path d="M776.6 408.6H780.2" stroke="#222" stroke-width="1"/><path d="M776.6 420.1H780.2" stroke="#222" stroke-width="1"/><path d="M776.6 431.5H780.2" stroke="#222" stroke-width="1"/><path d="M773.0 442.9H780.2" stroke="#111" stroke-width="1.7"/><path d="M776.6 454.3H780.2" stroke="#222" stroke-width="1"/><path d="M776.6 465.8H780.2" stroke="#222" stroke-width="1"/><path d="M776.6 477.2H780.2" stroke="#222" stroke-width="1"/><path d="M773.0 488.6H780.2" stroke="#111" stroke-width="1.7"/><path d="M776.6 500.1H780.2" stroke="#222" stroke-width="1"/><path d="M776.6 511.5H780.2" stroke="#222" stroke-width="1"/><path d="M776.6 522.9H780.2" stroke="#222" stroke-width="1"/><path d="M773.0 534.4H780.2" stroke="#111" stroke-width="1.7"/><path d="M776.6 545.8H780.2" stroke="#222" stroke-width="1"/><path d="M776.6 557.2H780.2" stroke="#222" stroke-width="1"/><path d="M776.6 568.6H780.2" stroke="#222" stroke-width="1"/><path d="M773.0 580.1H780.2" stroke="#111" stroke-width="1.7"/><path d="M776.6 591.5H780.2" stroke="#222" stroke-width="1"/><path d="M776.6 602.9H780.2" stroke="#222" stroke-width="1"/><path d="M776.6 614.4H780.2" stroke="#222" stroke-width="1"/><path d="M773.0 625.8H780.2" stroke="#111" stroke-width="1.7"/><path d="M107.0 626.6V632.8" stroke="#111" stroke-width="1.5"/><path d="M138.3 626.6V632.8" stroke="#111" stroke-width="1.5"/><path d="M187.6 626.6V632.8" stroke="#111" stroke-width="1.5"/><path d="M229.7 626.6V632.8" stroke="#111" stroke-width="1.5"/><path d="M267.5 626.6V632.8" stroke="#111" stroke-width="1.5"/><path d="M305.4 626.6V632.8" stroke="#111" stroke-width="1.5"/><path d="M153.1 626.6V629.8" stroke="#222" stroke-width="0.9"/><path d="M161.8 626.6V629.8" stroke="#222" stroke-width="0.9"/><path d="M168.0 626.6V629.8" stroke="#222" stroke-width="0.9"/><path d="M172.8 626.6V629.8" stroke="#222" stroke-width="0.9"/><path d="M176.7 626.6V629.8" stroke="#222" stroke-width="0.9"/><path d="M180.0 626.6V629.8" stroke="#222" stroke-width="0.9"/><path d="M182.8 626.6V629.8" stroke="#222" stroke-width="0.9"/><path d="M185.3 626.6V629.8" stroke="#222" stroke-width="0.9"/><path d="M200.3 626.6V629.8" stroke="#222" stroke-width="0.9"/><path d="M207.7 626.6V629.8" stroke="#222" stroke-width="0.9"/><path d="M212.9 626.6V629.8" stroke="#222" stroke-width="0.9"/><path d="M217.0 626.6V629.8" stroke="#222" stroke-width="0.9"/><path d="M220.4 626.6V629.8" stroke="#222" stroke-width="0.9"/><path d="M223.2 626.6V629.8" stroke="#222" stroke-width="0.9"/><path d="M225.6 626.6V629.8" stroke="#222" stroke-width="0.9"/><path d="M227.8 626.6V629.8" stroke="#222" stroke-width="0.9"/><path d="M241.1 626.6V629.8" stroke="#222" stroke-width="0.9"/><path d="M247.7 626.6V629.8" stroke="#222" stroke-width="0.9"/><path d="M252.5 626.6V629.8" stroke="#222" stroke-width="0.9"/><path d="M256.1 626.6V629.8" stroke="#222" stroke-width="0.9"/><path d="M259.1 626.6V629.8" stroke="#222" stroke-width="0.9"/><path d="M261.6 626.6V629.8" stroke="#222" stroke-width="0.9"/><path d="M263.8 626.6V629.8" stroke="#222" stroke-width="0.9"/><path d="M265.8 626.6V629.8" stroke="#222" stroke-width="0.9"/><path d="M278.9 626.6V629.8" stroke="#222" stroke-width="0.9"/><path d="M285.6 626.6V629.8" stroke="#222" stroke-width="0.9"/><path d="M290.3 626.6V629.8" stroke="#222" stroke-width="0.9"/><path d="M294.0 626.6V629.8" stroke="#222" stroke-width="0.9"/><path d="M297.0 626.6V629.8" stroke="#222" stroke-width="0.9"/><path d="M299.5 626.6V629.8" stroke="#222" stroke-width="0.9"/><path d="M301.7 626.6V629.8" stroke="#222" stroke-width="0.9"/><path d="M303.7 626.6V629.8" stroke="#222" stroke-width="0.9"/><path d="M107.0 626.6V630.0" stroke="#222" stroke-width="0.85"/><path d="M109.4 626.6V630.0" stroke="#222" stroke-width="0.85"/><path d="M111.8 626.6V630.0" stroke="#222" stroke-width="0.85"/><path d="M114.2 626.6V630.0" stroke="#222" stroke-width="0.85"/><path d="M116.6 626.6V630.0" stroke="#222" stroke-width="0.85"/><path d="M119.0 626.6V630.0" stroke="#222" stroke-width="0.85"/><path d="M121.4 626.6V630.0" stroke="#222" stroke-width="0.85"/><path d="M123.8 626.6V630.0" stroke="#222" stroke-width="0.85"/><path d="M126.2 626.6V630.0" stroke="#222" stroke-width="0.85"/><path d="M128.6 626.6V630.0" stroke="#222" stroke-width="0.85"/><path d="M131.0 626.6V630.0" stroke="#222" stroke-width="0.85"/><path d="M133.4 626.6V630.0" stroke="#222" stroke-width="0.85"/><path d="M135.8 626.6V630.0" stroke="#222" stroke-width="0.85"/><path d="M138.2 626.6V630.0" stroke="#222" stroke-width="0.85"/><rect x="118.6" y="626.6" width="5.8" height="4.4" fill="#111"/><rect x="119.1" y="626.6" width="4.8" height="5.6" fill="#111"/><path d="M68.5 626.6V629.8" stroke="#222" stroke-width="0.9"/><path d="M72.2 626.6V629.8" stroke="#222" stroke-width="0.9"/><path d="M77.8 626.6V629.8" stroke="#222" stroke-width="0.9"/><path d="M85.9 626.6V629.8" stroke="#222" stroke-width="0.9"/><path d="M95.3 626.6V629.8" stroke="#222" stroke-width="0.9"/><path d="M438.5 626.6V632.8" stroke="#111" stroke-width="1.5"/><path d="M509.8 626.6V632.8" stroke="#111" stroke-width="1.5"/><path d="M556.0 626.6V632.8" stroke="#111" stroke-width="1.5"/><path d="M591.6 626.6V632.8" stroke="#111" stroke-width="1.5"/><path d="M626.9 626.6V632.8" stroke="#111" stroke-width="1.5"/><path d="M661.9 626.6V632.8" stroke="#111" stroke-width="1.5"/><path d="M460.0 626.6V629.8" stroke="#222" stroke-width="0.9"/><path d="M472.5 626.6V629.8" stroke="#222" stroke-width="0.9"/><path d="M481.4 626.6V629.8" stroke="#222" stroke-width="0.9"/><path d="M488.3 626.6V629.8" stroke="#222" stroke-width="0.9"/><path d="M494.0 626.6V629.8" stroke="#222" stroke-width="0.9"/><path d="M498.8 626.6V629.8" stroke="#222" stroke-width="0.9"/><path d="M502.9 626.6V629.8" stroke="#222" stroke-width="0.9"/><path d="M506.5 626.6V629.8" stroke="#222" stroke-width="0.9"/><path d="M523.7 626.6V629.8" stroke="#222" stroke-width="0.9"/><path d="M531.8 626.6V629.8" stroke="#222" stroke-width="0.9"/><path d="M537.6 626.6V629.8" stroke="#222" stroke-width="0.9"/><path d="M542.1 626.6V629.8" stroke="#222" stroke-width="0.9"/><path d="M545.8 626.6V629.8" stroke="#222" stroke-width="0.9"/><path d="M548.8 626.6V629.8" stroke="#222" stroke-width="0.9"/><path d="M551.5 626.6V629.8" stroke="#222" stroke-width="0.9"/><path d="M553.9 626.6V629.8" stroke="#222" stroke-width="0.9"/><path d="M566.7 626.6V629.8" stroke="#222" stroke-width="0.9"/><path d="M573.0 626.6V629.8" stroke="#222" stroke-width="0.9"/><path d="M577.4 626.6V629.8" stroke="#222" stroke-width="0.9"/><path d="M580.9 626.6V629.8" stroke="#222" stroke-width="0.9"/><path d="M583.7 626.6V629.8" stroke="#222" stroke-width="0.9"/><path d="M586.1 626.6V629.8" stroke="#222" stroke-width="0.9"/><path d="M588.2 626.6V629.8" stroke="#222" stroke-width="0.9"/><path d="M590.0 626.6V629.8" stroke="#222" stroke-width="0.9"/><path d="M602.2 626.6V629.8" stroke="#222" stroke-width="0.9"/><path d="M608.4 626.6V629.8" stroke="#222" stroke-width="0.9"/><path d="M612.9 626.6V629.8" stroke="#222" stroke-width="0.9"/><path d="M616.3 626.6V629.8" stroke="#222" stroke-width="0.9"/><path d="M619.1 626.6V629.8" stroke="#222" stroke-width="0.9"/><path d="M621.4 626.6V629.8" stroke="#222" stroke-width="0.9"/><path d="M623.5 626.6V629.8" stroke="#222" stroke-width="0.9"/><path d="M625.3 626.6V629.8" stroke="#222" stroke-width="0.9"/><path d="M637.4 626.6V629.8" stroke="#222" stroke-width="0.9"/><path d="M643.6 626.6V629.8" stroke="#222" stroke-width="0.9"/><path d="M648.0 626.6V629.8" stroke="#222" stroke-width="0.9"/><path d="M651.4 626.6V629.8" stroke="#222" stroke-width="0.9"/><path d="M654.1 626.6V629.8" stroke="#222" stroke-width="0.9"/><path d="M656.5 626.6V629.8" stroke="#222" stroke-width="0.9"/><path d="M658.5 626.6V629.8" stroke="#222" stroke-width="0.9"/><path d="M660.3 626.6V629.8" stroke="#222" stroke-width="0.9"/><path d="M441.0 626.6V630.0" stroke="#222" stroke-width="0.85"/><path d="M443.4 626.6V630.0" stroke="#222" stroke-width="0.85"/><path d="M445.8 626.6V630.0" stroke="#222" stroke-width="0.85"/><path d="M448.2 626.6V630.0" stroke="#222" stroke-width="0.85"/><path d="M450.6 626.6V630.0" stroke="#222" stroke-width="0.85"/><path d="M453.0 626.6V630.0" stroke="#222" stroke-width="0.85"/><path d="M455.4 626.6V630.0" stroke="#222" stroke-width="0.85"/><path d="M457.8 626.6V630.0" stroke="#222" stroke-width="0.85"/><path d="M460.2 626.6V630.0" stroke="#222" stroke-width="0.85"/><path d="M462.6 626.6V630.0" stroke="#222" stroke-width="0.85"/><path d="M465.0 626.6V630.0" stroke="#222" stroke-width="0.85"/><path d="M467.4 626.6V630.0" stroke="#222" stroke-width="0.85"/><path d="M469.8 626.6V630.0" stroke="#222" stroke-width="0.85"/><path d="M472.2 626.6V630.0" stroke="#222" stroke-width="0.85"/><path d="M474.6 626.6V630.0" stroke="#222" stroke-width="0.85"/><path d="M477.0 626.6V630.0" stroke="#222" stroke-width="0.85"/><path d="M479.4 626.6V630.0" stroke="#222" stroke-width="0.85"/><path d="M481.8 626.6V630.0" stroke="#222" stroke-width="0.85"/><path d="M484.2 626.6V630.0" stroke="#222" stroke-width="0.85"/><path d="M486.6 626.6V630.0" stroke="#222" stroke-width="0.85"/><path d="M489.0 626.6V630.0" stroke="#222" stroke-width="0.85"/><path d="M491.4 626.6V630.0" stroke="#222" stroke-width="0.85"/><path d="M493.8 626.6V630.0" stroke="#222" stroke-width="0.85"/><path d="M496.2 626.6V630.0" stroke="#222" stroke-width="0.85"/><path d="M498.6 626.6V630.0" stroke="#222" stroke-width="0.85"/><path d="M501.0 626.6V630.0" stroke="#222" stroke-width="0.85"/><path d="M503.4 626.6V630.0" stroke="#222" stroke-width="0.85"/><path d="M505.8 626.6V630.0" stroke="#222" stroke-width="0.85"/><rect x="470.3" y="626.6" width="9.4" height="4.4" fill="#111"/><rect x="472.6" y="626.6" width="4.8" height="5.6" fill="#111"/><path d="M424.6 626.6V629.8" stroke="#222" stroke-width="0.9"/><path d="M780.4 626.6V632.8" stroke="#111" stroke-width="1.5"/><path d="M886.7 626.6V632.8" stroke="#111" stroke-width="1.5"/><path d="M956.0 626.6V632.8" stroke="#111" stroke-width="1.5"/><path d="M1017.4 626.6V632.8" stroke="#111" stroke-width="1.5"/><path d="M812.4 626.6V629.8" stroke="#222" stroke-width="0.9"/><path d="M831.1 626.6V629.8" stroke="#222" stroke-width="0.9"/><path d="M844.4 626.6V629.8" stroke="#222" stroke-width="0.9"/><path d="M854.7 626.6V629.8" stroke="#222" stroke-width="0.9"/><path d="M863.1 626.6V629.8" stroke="#222" stroke-width="0.9"/><path d="M870.2 626.6V629.8" stroke="#222" stroke-width="0.9"/><path d="M876.4 626.6V629.8" stroke="#222" stroke-width="0.9"/><path d="M881.8 626.6V629.8" stroke="#222" stroke-width="0.9"/><path d="M907.6 626.6V629.8" stroke="#222" stroke-width="0.9"/><path d="M919.8 626.6V629.8" stroke="#222" stroke-width="0.9"/><path d="M928.4 626.6V629.8" stroke="#222" stroke-width="0.9"/><path d="M935.1 626.6V629.8" stroke="#222" stroke-width="0.9"/><path d="M940.6 626.6V629.8" stroke="#222" stroke-width="0.9"/><path d="M945.3 626.6V629.8" stroke="#222" stroke-width="0.9"/><path d="M949.3 626.6V629.8" stroke="#222" stroke-width="0.9"/><path d="M952.8 626.6V629.8" stroke="#222" stroke-width="0.9"/><path d="M974.5 626.6V629.8" stroke="#222" stroke-width="0.9"/><path d="M985.3 626.6V629.8" stroke="#222" stroke-width="0.9"/><path d="M993.0 626.6V629.8" stroke="#222" stroke-width="0.9"/><path d="M998.9 626.6V629.8" stroke="#222" stroke-width="0.9"/><path d="M1003.8 626.6V629.8" stroke="#222" stroke-width="0.9"/><path d="M1007.9 626.6V629.8" stroke="#222" stroke-width="0.9"/><path d="M1011.4 626.6V629.8" stroke="#222" stroke-width="0.9"/><path d="M1014.6 626.6V629.8" stroke="#222" stroke-width="0.9"/><rect x="825.9" y="626.6" width="14.0" height="4.4" fill="#111"/><rect x="830.5" y="626.6" width="4.8" height="5.6" fill="#111"/><path d="M783.2 626.6V629.8" stroke="#222" stroke-width="0.9"/><path d="M787.5 626.6V629.8" stroke="#222" stroke-width="0.9"/><path d="M792.2 626.6V629.8" stroke="#222" stroke-width="0.9"/><path d="M796.8 626.6V629.8" stroke="#222" stroke-width="0.9"/><path d="M801.5 626.6V629.8" stroke="#222" stroke-width="0.9"/><path d="M807.1 626.6V629.8" stroke="#222" stroke-width="0.9"/><path d="M813.7 626.6V629.8" stroke="#222" stroke-width="0.9"/><path d="M819.3 626.6V629.8" stroke="#222" stroke-width="0.9"/><path d="M847.4 626.6V629.8" stroke="#222" stroke-width="0.9"/><path d="M853.0 626.6V629.8" stroke="#222" stroke-width="0.9"/><path d="M859.6 626.6V629.8" stroke="#222" stroke-width="0.9"/><path d="M865.2 626.6V629.8" stroke="#222" stroke-width="0.9"/><path d="M869.9 626.6V629.8" stroke="#222" stroke-width="0.9"/><path d="M874.5 626.6V629.8" stroke="#222" stroke-width="0.9"/><path d="M879.2 626.6V629.8" stroke="#222" stroke-width="0.9"/><path d="M883.0 626.6V629.8" stroke="#222" stroke-width="0.9"/><path d="M884.9 626.6V629.8" stroke="#222" stroke-width="0.9"/><path d="M140.2 976.0v6.2M166.4 976.0v6.2" stroke="#111" stroke-width="1.5"/><path d="M74.7 976.0V982.2" stroke="#111" stroke-width="1.5"/><path d="M231.4 976.0V982.2" stroke="#111" stroke-width="1.5"/><path d="M303.7 976.0V982.2" stroke="#111" stroke-width="1.5"/><path d="M121.9 976.0V979.2" stroke="#222" stroke-width="0.9"/><path d="M149.5 976.0V979.2" stroke="#222" stroke-width="0.9"/><path d="M169.0 976.0V979.2" stroke="#222" stroke-width="0.9"/><path d="M184.2 976.0V979.2" stroke="#222" stroke-width="0.9"/><path d="M196.6 976.0V979.2" stroke="#222" stroke-width="0.9"/><path d="M207.1 976.0V979.2" stroke="#222" stroke-width="0.9"/><path d="M216.2 976.0V979.2" stroke="#222" stroke-width="0.9"/><path d="M224.2 976.0V979.2" stroke="#222" stroke-width="0.9"/><path d="M253.2 976.0V979.2" stroke="#222" stroke-width="0.9"/><path d="M265.9 976.0V979.2" stroke="#222" stroke-width="0.9"/><path d="M274.9 976.0V979.2" stroke="#222" stroke-width="0.9"/><path d="M281.9 976.0V979.2" stroke="#222" stroke-width="0.9"/><path d="M287.7 976.0V979.2" stroke="#222" stroke-width="0.9"/><path d="M292.5 976.0V979.2" stroke="#222" stroke-width="0.9"/><path d="M296.7 976.0V979.2" stroke="#222" stroke-width="0.9"/><path d="M300.4 976.0V979.2" stroke="#222" stroke-width="0.9"/><path d="M142.0 976.0V979.8" stroke="#111" stroke-width="1.7"/><path d="M144.9 976.0V979.8" stroke="#111" stroke-width="1.7"/><path d="M147.8 976.0V979.8" stroke="#111" stroke-width="1.7"/><path d="M150.7 976.0V979.8" stroke="#111" stroke-width="1.7"/><path d="M153.6 976.0V979.8" stroke="#111" stroke-width="1.7"/><path d="M156.5 976.0V979.8" stroke="#111" stroke-width="1.7"/><path d="M159.4 976.0V979.8" stroke="#111" stroke-width="1.7"/><path d="M162.3 976.0V979.8" stroke="#111" stroke-width="1.7"/><rect x="150.7" y="976.0" width="5.2" height="5.6" fill="#111"/><path d="M78.8 976.0V979.2" stroke="#222" stroke-width="0.9"/><path d="M83.1 976.0V979.2" stroke="#222" stroke-width="0.9"/><path d="M88.3 976.0V979.2" stroke="#222" stroke-width="0.9"/><path d="M93.8 976.0V979.2" stroke="#222" stroke-width="0.9"/><path d="M101.3 976.0V979.2" stroke="#222" stroke-width="0.9"/><path d="M108.7 976.0V979.2" stroke="#222" stroke-width="0.9"/><path d="M118.1 976.0V979.2" stroke="#222" stroke-width="0.9"/><path d="M129.5 976.0V979.2" stroke="#222" stroke-width="0.9"/><path d="M177.7 976.0V979.2" stroke="#222" stroke-width="0.9"/><path d="M188.9 976.0V979.2" stroke="#222" stroke-width="0.9"/><path d="M198.3 976.0V979.2" stroke="#222" stroke-width="0.9"/><path d="M205.7 976.0V979.2" stroke="#222" stroke-width="0.9"/><path d="M212.3 976.0V979.2" stroke="#222" stroke-width="0.9"/><path d="M218.9 976.0V979.2" stroke="#222" stroke-width="0.9"/><path d="M224.1 976.0V979.2" stroke="#222" stroke-width="0.9"/><path d="M228.2 976.0V979.2" stroke="#222" stroke-width="0.9"/><path d="M60.4 736.5H67.0" stroke="#111" stroke-width="1.5"/><path d="M60.4 787.5H67.0" stroke="#111" stroke-width="1.5"/><path d="M60.4 851.3H67.0" stroke="#111" stroke-width="1.5"/><path d="M60.4 894.7H67.0" stroke="#111" stroke-width="1.5"/><path d="M60.4 908.7H67.0" stroke="#111" stroke-width="1.5"/><path d="M60.4 951.6H67.0" stroke="#111" stroke-width="1.5"/><path d="M63.7 772.1H67.0" stroke="#222" stroke-width="0.9"/><path d="M63.7 763.2H67.0" stroke="#222" stroke-width="0.9"/><path d="M63.7 756.8H67.0" stroke="#222" stroke-width="0.9"/><path d="M63.7 751.9H67.0" stroke="#222" stroke-width="0.9"/><path d="M63.7 747.8H67.0" stroke="#222" stroke-width="0.9"/><path d="M63.7 744.4H67.0" stroke="#222" stroke-width="0.9"/><path d="M63.7 741.4H67.0" stroke="#222" stroke-width="0.9"/><path d="M63.7 738.8H67.0" stroke="#222" stroke-width="0.9"/><path d="M63.7 832.1H67.0" stroke="#222" stroke-width="0.9"/><path d="M63.7 820.9H67.0" stroke="#222" stroke-width="0.9"/><path d="M63.7 812.9H67.0" stroke="#222" stroke-width="0.9"/><path d="M63.7 806.7H67.0" stroke="#222" stroke-width="0.9"/><path d="M63.7 801.7H67.0" stroke="#222" stroke-width="0.9"/><path d="M63.7 797.4H67.0" stroke="#222" stroke-width="0.9"/><path d="M63.7 793.7H67.0" stroke="#222" stroke-width="0.9"/><path d="M63.7 790.4H67.0" stroke="#222" stroke-width="0.9"/><path d="M63.7 881.6H67.0" stroke="#222" stroke-width="0.9"/><path d="M63.7 874.0H67.0" stroke="#222" stroke-width="0.9"/><path d="M63.7 868.6H67.0" stroke="#222" stroke-width="0.9"/><path d="M63.7 864.4H67.0" stroke="#222" stroke-width="0.9"/><path d="M63.7 860.9H67.0" stroke="#222" stroke-width="0.9"/><path d="M63.7 858.0H67.0" stroke="#222" stroke-width="0.9"/><path d="M63.7 855.5H67.0" stroke="#222" stroke-width="0.9"/><path d="M63.7 853.3H67.0" stroke="#222" stroke-width="0.9"/><path d="M63.7 938.7H67.0" stroke="#222" stroke-width="0.9"/><path d="M63.7 931.1H67.0" stroke="#222" stroke-width="0.9"/><path d="M63.7 925.8H67.0" stroke="#222" stroke-width="0.9"/><path d="M63.7 921.6H67.0" stroke="#222" stroke-width="0.9"/><path d="M63.7 918.2H67.0" stroke="#222" stroke-width="0.9"/><path d="M63.7 915.3H67.0" stroke="#222" stroke-width="0.9"/><path d="M63.7 912.9H67.0" stroke="#222" stroke-width="0.9"/><path d="M63.7 910.7H67.0" stroke="#222" stroke-width="0.9"/><path d="M63.4 894.7H67.0" stroke="#111" stroke-width="1.1"/><path d="M63.4 897.0H67.0" stroke="#111" stroke-width="1.1"/><path d="M63.4 899.3H67.0" stroke="#111" stroke-width="1.1"/><path d="M63.4 901.6H67.0" stroke="#111" stroke-width="1.1"/><path d="M63.4 903.9H67.0" stroke="#111" stroke-width="1.1"/><path d="M63.4 906.2H67.0" stroke="#111" stroke-width="1.1"/><path d="M63.4 908.5H67.0" stroke="#111" stroke-width="1.1"/><rect x="60.4" y="899.5" width="6.6" height="7.0" fill="#111"/><path d="M63.7 974.5H67.0" stroke="#222" stroke-width="0.9"/><path d="M496.9 976.0v6.2M523.1 976.0v6.2" stroke="#111" stroke-width="1.5"/><path d="M431.4 976.0V982.2" stroke="#111" stroke-width="1.5"/><path d="M588.1 976.0V982.2" stroke="#111" stroke-width="1.5"/><path d="M660.4 976.0V982.2" stroke="#111" stroke-width="1.5"/><path d="M478.6 976.0V979.2" stroke="#222" stroke-width="0.9"/><path d="M506.2 976.0V979.2" stroke="#222" stroke-width="0.9"/><path d="M525.7 976.0V979.2" stroke="#222" stroke-width="0.9"/><path d="M540.9 976.0V979.2" stroke="#222" stroke-width="0.9"/><path d="M553.3 976.0V979.2" stroke="#222" stroke-width="0.9"/><path d="M563.8 976.0V979.2" stroke="#222" stroke-width="0.9"/><path d="M572.9 976.0V979.2" stroke="#222" stroke-width="0.9"/><path d="M580.9 976.0V979.2" stroke="#222" stroke-width="0.9"/><path d="M609.9 976.0V979.2" stroke="#222" stroke-width="0.9"/><path d="M622.6 976.0V979.2" stroke="#222" stroke-width="0.9"/><path d="M631.6 976.0V979.2" stroke="#222" stroke-width="0.9"/><path d="M638.6 976.0V979.2" stroke="#222" stroke-width="0.9"/><path d="M644.4 976.0V979.2" stroke="#222" stroke-width="0.9"/><path d="M649.2 976.0V979.2" stroke="#222" stroke-width="0.9"/><path d="M653.4 976.0V979.2" stroke="#222" stroke-width="0.9"/><path d="M657.1 976.0V979.2" stroke="#222" stroke-width="0.9"/><path d="M498.7 976.0V979.8" stroke="#111" stroke-width="1.7"/><path d="M501.6 976.0V979.8" stroke="#111" stroke-width="1.7"/><path d="M504.5 976.0V979.8" stroke="#111" stroke-width="1.7"/><path d="M507.4 976.0V979.8" stroke="#111" stroke-width="1.7"/><path d="M510.3 976.0V979.8" stroke="#111" stroke-width="1.7"/><path d="M513.2 976.0V979.8" stroke="#111" stroke-width="1.7"/><path d="M516.1 976.0V979.8" stroke="#111" stroke-width="1.7"/><path d="M519.0 976.0V979.8" stroke="#111" stroke-width="1.7"/><rect x="507.4" y="976.0" width="5.2" height="5.6" fill="#111"/><path d="M435.5 976.0V979.2" stroke="#222" stroke-width="0.9"/><path d="M439.8 976.0V979.2" stroke="#222" stroke-width="0.9"/><path d="M445.0 976.0V979.2" stroke="#222" stroke-width="0.9"/><path d="M450.5 976.0V979.2" stroke="#222" stroke-width="0.9"/><path d="M458.0 976.0V979.2" stroke="#222" stroke-width="0.9"/><path d="M465.4 976.0V979.2" stroke="#222" stroke-width="0.9"/><path d="M474.8 976.0V979.2" stroke="#222" stroke-width="0.9"/><path d="M486.2 976.0V979.2" stroke="#222" stroke-width="0.9"/><path d="M534.4 976.0V979.2" stroke="#222" stroke-width="0.9"/><path d="M545.6 976.0V979.2" stroke="#222" stroke-width="0.9"/><path d="M555.0 976.0V979.2" stroke="#222" stroke-width="0.9"/><path d="M562.4 976.0V979.2" stroke="#222" stroke-width="0.9"/><path d="M569.0 976.0V979.2" stroke="#222" stroke-width="0.9"/><path d="M575.6 976.0V979.2" stroke="#222" stroke-width="0.9"/><path d="M580.8 976.0V979.2" stroke="#222" stroke-width="0.9"/><path d="M584.9 976.0V979.2" stroke="#222" stroke-width="0.9"/><path d="M417.1 736.5H423.7" stroke="#111" stroke-width="1.5"/><path d="M417.1 787.5H423.7" stroke="#111" stroke-width="1.5"/><path d="M417.1 851.3H423.7" stroke="#111" stroke-width="1.5"/><path d="M417.1 894.7H423.7" stroke="#111" stroke-width="1.5"/><path d="M417.1 908.7H423.7" stroke="#111" stroke-width="1.5"/><path d="M417.1 951.6H423.7" stroke="#111" stroke-width="1.5"/><path d="M420.4 772.1H423.7" stroke="#222" stroke-width="0.9"/><path d="M420.4 763.2H423.7" stroke="#222" stroke-width="0.9"/><path d="M420.4 756.8H423.7" stroke="#222" stroke-width="0.9"/><path d="M420.4 751.9H423.7" stroke="#222" stroke-width="0.9"/><path d="M420.4 747.8H423.7" stroke="#222" stroke-width="0.9"/><path d="M420.4 744.4H423.7" stroke="#222" stroke-width="0.9"/><path d="M420.4 741.4H423.7" stroke="#222" stroke-width="0.9"/><path d="M420.4 738.8H423.7" stroke="#222" stroke-width="0.9"/><path d="M420.4 832.1H423.7" stroke="#222" stroke-width="0.9"/><path d="M420.4 820.9H423.7" stroke="#222" stroke-width="0.9"/><path d="M420.4 812.9H423.7" stroke="#222" stroke-width="0.9"/><path d="M420.4 806.7H423.7" stroke="#222" stroke-width="0.9"/><path d="M420.4 801.7H423.7" stroke="#222" stroke-width="0.9"/><path d="M420.4 797.4H423.7" stroke="#222" stroke-width="0.9"/><path d="M420.4 793.7H423.7" stroke="#222" stroke-width="0.9"/><path d="M420.4 790.4H423.7" stroke="#222" stroke-width="0.9"/><path d="M420.4 881.6H423.7" stroke="#222" stroke-width="0.9"/><path d="M420.4 874.0H423.7" stroke="#222" stroke-width="0.9"/><path d="M420.4 868.6H423.7" stroke="#222" stroke-width="0.9"/><path d="M420.4 864.4H423.7" stroke="#222" stroke-width="0.9"/><path d="M420.4 860.9H423.7" stroke="#222" stroke-width="0.9"/><path d="M420.4 858.0H423.7" stroke="#222" stroke-width="0.9"/><path d="M420.4 855.5H423.7" stroke="#222" stroke-width="0.9"/><path d="M420.4 853.3H423.7" stroke="#222" stroke-width="0.9"/><path d="M420.4 938.7H423.7" stroke="#222" stroke-width="0.9"/><path d="M420.4 931.1H423.7" stroke="#222" stroke-width="0.9"/><path d="M420.4 925.8H423.7" stroke="#222" stroke-width="0.9"/><path d="M420.4 921.6H423.7" stroke="#222" stroke-width="0.9"/><path d="M420.4 918.2H423.7" stroke="#222" stroke-width="0.9"/><path d="M420.4 915.3H423.7" stroke="#222" stroke-width="0.9"/><path d="M420.4 912.9H423.7" stroke="#222" stroke-width="0.9"/><path d="M420.4 910.7H423.7" stroke="#222" stroke-width="0.9"/><path d="M420.1 894.7H423.7" stroke="#111" stroke-width="1.1"/><path d="M420.1 897.0H423.7" stroke="#111" stroke-width="1.1"/><path d="M420.1 899.3H423.7" stroke="#111" stroke-width="1.1"/><path d="M420.1 901.6H423.7" stroke="#111" stroke-width="1.1"/><path d="M420.1 903.9H423.7" stroke="#111" stroke-width="1.1"/><path d="M420.1 906.2H423.7" stroke="#111" stroke-width="1.1"/><path d="M420.1 908.5H423.7" stroke="#111" stroke-width="1.1"/><rect x="417.1" y="899.5" width="6.6" height="7.0" fill="#111"/><path d="M420.4 974.5H423.7" stroke="#222" stroke-width="0.9"/><path d="M853.4 976.0v6.2M879.6 976.0v6.2" stroke="#111" stroke-width="1.5"/><path d="M787.9 976.0V982.2" stroke="#111" stroke-width="1.5"/><path d="M944.6 976.0V982.2" stroke="#111" stroke-width="1.5"/><path d="M1016.9 976.0V982.2" stroke="#111" stroke-width="1.5"/><path d="M835.1 976.0V979.2" stroke="#222" stroke-width="0.9"/><path d="M862.7 976.0V979.2" stroke="#222" stroke-width="0.9"/><path d="M882.2 976.0V979.2" stroke="#222" stroke-width="0.9"/><path d="M897.4 976.0V979.2" stroke="#222" stroke-width="0.9"/><path d="M909.8 976.0V979.2" stroke="#222" stroke-width="0.9"/><path d="M920.3 976.0V979.2" stroke="#222" stroke-width="0.9"/><path d="M929.4 976.0V979.2" stroke="#222" stroke-width="0.9"/><path d="M937.4 976.0V979.2" stroke="#222" stroke-width="0.9"/><path d="M966.4 976.0V979.2" stroke="#222" stroke-width="0.9"/><path d="M979.1 976.0V979.2" stroke="#222" stroke-width="0.9"/><path d="M988.1 976.0V979.2" stroke="#222" stroke-width="0.9"/><path d="M995.1 976.0V979.2" stroke="#222" stroke-width="0.9"/><path d="M1000.9 976.0V979.2" stroke="#222" stroke-width="0.9"/><path d="M1005.7 976.0V979.2" stroke="#222" stroke-width="0.9"/><path d="M1009.9 976.0V979.2" stroke="#222" stroke-width="0.9"/><path d="M1013.6 976.0V979.2" stroke="#222" stroke-width="0.9"/><path d="M855.2 976.0V979.8" stroke="#111" stroke-width="1.7"/><path d="M858.1 976.0V979.8" stroke="#111" stroke-width="1.7"/><path d="M861.0 976.0V979.8" stroke="#111" stroke-width="1.7"/><path d="M863.9 976.0V979.8" stroke="#111" stroke-width="1.7"/><path d="M866.8 976.0V979.8" stroke="#111" stroke-width="1.7"/><path d="M869.7 976.0V979.8" stroke="#111" stroke-width="1.7"/><path d="M872.6 976.0V979.8" stroke="#111" stroke-width="1.7"/><path d="M875.5 976.0V979.8" stroke="#111" stroke-width="1.7"/><rect x="863.9" y="976.0" width="5.2" height="5.6" fill="#111"/><path d="M792.0 976.0V979.2" stroke="#222" stroke-width="0.9"/><path d="M796.3 976.0V979.2" stroke="#222" stroke-width="0.9"/><path d="M801.5 976.0V979.2" stroke="#222" stroke-width="0.9"/><path d="M807.0 976.0V979.2" stroke="#222" stroke-width="0.9"/><path d="M814.5 976.0V979.2" stroke="#222" stroke-width="0.9"/><path d="M821.9 976.0V979.2" stroke="#222" stroke-width="0.9"/><path d="M831.3 976.0V979.2" stroke="#222" stroke-width="0.9"/><path d="M842.7 976.0V979.2" stroke="#222" stroke-width="0.9"/><path d="M890.9 976.0V979.2" stroke="#222" stroke-width="0.9"/><path d="M902.1 976.0V979.2" stroke="#222" stroke-width="0.9"/><path d="M911.5 976.0V979.2" stroke="#222" stroke-width="0.9"/><path d="M918.9 976.0V979.2" stroke="#222" stroke-width="0.9"/><path d="M925.5 976.0V979.2" stroke="#222" stroke-width="0.9"/><path d="M932.1 976.0V979.2" stroke="#222" stroke-width="0.9"/><path d="M937.3 976.0V979.2" stroke="#222" stroke-width="0.9"/><path d="M941.4 976.0V979.2" stroke="#222" stroke-width="0.9"/><path d="M773.6 736.5H780.2" stroke="#111" stroke-width="1.5"/><path d="M773.6 787.5H780.2" stroke="#111" stroke-width="1.5"/><path d="M773.6 851.3H780.2" stroke="#111" stroke-width="1.5"/><path d="M773.6 894.7H780.2" stroke="#111" stroke-width="1.5"/><path d="M773.6 908.7H780.2" stroke="#111" stroke-width="1.5"/><path d="M773.6 951.6H780.2" stroke="#111" stroke-width="1.5"/><path d="M776.9 772.1H780.2" stroke="#222" stroke-width="0.9"/><path d="M776.9 763.2H780.2" stroke="#222" stroke-width="0.9"/><path d="M776.9 756.8H780.2" stroke="#222" stroke-width="0.9"/><path d="M776.9 751.9H780.2" stroke="#222" stroke-width="0.9"/><path d="M776.9 747.8H780.2" stroke="#222" stroke-width="0.9"/><path d="M776.9 744.4H780.2" stroke="#222" stroke-width="0.9"/><path d="M776.9 741.4H780.2" stroke="#222" stroke-width="0.9"/><path d="M776.9 738.8H780.2" stroke="#222" stroke-width="0.9"/><path d="M776.9 832.1H780.2" stroke="#222" stroke-width="0.9"/><path d="M776.9 820.9H780.2" stroke="#222" stroke-width="0.9"/><path d="M776.9 812.9H780.2" stroke="#222" stroke-width="0.9"/><path d="M776.9 806.7H780.2" stroke="#222" stroke-width="0.9"/><path d="M776.9 801.7H780.2" stroke="#222" stroke-width="0.9"/><path d="M776.9 797.4H780.2" stroke="#222" stroke-width="0.9"/><path d="M776.9 793.7H780.2" stroke="#222" stroke-width="0.9"/><path d="M776.9 790.4H780.2" stroke="#222" stroke-width="0.9"/><path d="M776.9 881.6H780.2" stroke="#222" stroke-width="0.9"/><path d="M776.9 874.0H780.2" stroke="#222" stroke-width="0.9"/><path d="M776.9 868.6H780.2" stroke="#222" stroke-width="0.9"/><path d="M776.9 864.4H780.2" stroke="#222" stroke-width="0.9"/><path d="M776.9 860.9H780.2" stroke="#222" stroke-width="0.9"/><path d="M776.9 858.0H780.2" stroke="#222" stroke-width="0.9"/><path d="M776.9 855.5H780.2" stroke="#222" stroke-width="0.9"/><path d="M776.9 853.3H780.2" stroke="#222" stroke-width="0.9"/><path d="M776.9 938.7H780.2" stroke="#222" stroke-width="0.9"/><path d="M776.9 931.1H780.2" stroke="#222" stroke-width="0.9"/><path d="M776.9 925.8H780.2" stroke="#222" stroke-width="0.9"/><path d="M776.9 921.6H780.2" stroke="#222" stroke-width="0.9"/><path d="M776.9 918.2H780.2" stroke="#222" stroke-width="0.9"/><path d="M776.9 915.3H780.2" stroke="#222" stroke-width="0.9"/><path d="M776.9 912.9H780.2" stroke="#222" stroke-width="0.9"/><path d="M776.9 910.7H780.2" stroke="#222" stroke-width="0.9"/><path d="M776.6 894.7H780.2" stroke="#111" stroke-width="1.1"/><path d="M776.6 897.0H780.2" stroke="#111" stroke-width="1.1"/><path d="M776.6 899.3H780.2" stroke="#111" stroke-width="1.1"/><path d="M776.6 901.6H780.2" stroke="#111" stroke-width="1.1"/><path d="M776.6 903.9H780.2" stroke="#111" stroke-width="1.1"/><path d="M776.6 906.2H780.2" stroke="#111" stroke-width="1.1"/><path d="M776.6 908.5H780.2" stroke="#111" stroke-width="1.1"/><rect x="773.6" y="899.5" width="6.6" height="7.0" fill="#111"/><path d="M776.9 974.5H780.2" stroke="#222" stroke-width="0.9"/>
<text x="149.8" y="321.7" textLength="73.6" lengthAdjust="spacingAndGlyphs" font-family='"DejaVu Sans Condensed","DejaVu Sans","Liberation Sans",sans-serif' font-weight="bold" font-size="22.5" fill="#111">FSC–A</text><text x="506.2" y="321.7" textLength="74.3" lengthAdjust="spacingAndGlyphs" font-family='"DejaVu Sans Condensed","DejaVu Sans","Liberation Sans",sans-serif' font-weight="bold" font-size="22.5" fill="#111">FSC–A</text><text x="862.4" y="321.7" textLength="73.7" lengthAdjust="spacingAndGlyphs" font-family='"DejaVu Sans Condensed","DejaVu Sans","Liberation Sans",sans-serif' font-weight="bold" font-size="22.5" fill="#111">FSC–H</text><text x="154.2" y="669.3" textLength="63.2" lengthAdjust="spacingAndGlyphs" font-family='"DejaVu Sans Condensed","DejaVu Sans","Liberation Sans",sans-serif' font-weight="bold" font-size="22.5" fill="#111">CD45</text><text x="502.9" y="669.3" textLength="80.1" lengthAdjust="spacingAndGlyphs" font-family='"DejaVu Sans Condensed","DejaVu Sans","Liberation Sans",sans-serif' font-weight="bold" font-size="22.5" fill="#111">CD11b</text><text x="867.0" y="669.3" textLength="65.2" lengthAdjust="spacingAndGlyphs" font-family='"DejaVu Sans Condensed","DejaVu Sans","Liberation Sans",sans-serif' font-weight="bold" font-size="22.5" fill="#111">CD16</text><text x="154.7" y="1017.8" textLength="64.0" lengthAdjust="spacingAndGlyphs" font-family='"DejaVu Sans Condensed","DejaVu Sans","Liberation Sans",sans-serif' font-weight="bold" font-size="22.5" fill="#111">CD14</text><text x="510.4" y="1017.8" textLength="64.7" lengthAdjust="spacingAndGlyphs" font-family='"DejaVu Sans Condensed","DejaVu Sans","Liberation Sans",sans-serif' font-weight="bold" font-size="22.5" fill="#111">CD14</text><text x="867.2" y="1017.8" textLength="64.8" lengthAdjust="spacingAndGlyphs" font-family='"DejaVu Sans Condensed","DejaVu Sans","Liberation Sans",sans-serif' font-weight="bold" font-size="22.5" fill="#111">CD14</text><text transform="translate(25.6 196.2) rotate(-90)" textLength="74.6" lengthAdjust="spacingAndGlyphs" font-family='"DejaVu Sans Condensed","DejaVu Sans","Liberation Sans",sans-serif' font-weight="bold" font-size="22.5" fill="#111">SSC–A</text><text transform="translate(381.9 195.2) rotate(-90)" textLength="73.6" lengthAdjust="spacingAndGlyphs" font-family='"DejaVu Sans Condensed","DejaVu Sans","Liberation Sans",sans-serif' font-weight="bold" font-size="22.5" fill="#111">FSC–H</text><text transform="translate(739.2 192.9) rotate(-90)" textLength="67.9" lengthAdjust="spacingAndGlyphs" font-family='"DejaVu Sans Condensed","DejaVu Sans","Liberation Sans",sans-serif' font-weight="bold" font-size="22.5" fill="#111">AARD</text><text transform="translate(25.6 542.4) rotate(-90)" textLength="73.0" lengthAdjust="spacingAndGlyphs" font-family='"DejaVu Sans Condensed","DejaVu Sans","Liberation Sans",sans-serif' font-weight="bold" font-size="22.5" fill="#111">FSC–H</text><text transform="translate(381.9 542.4) rotate(-90)" textLength="73.0" lengthAdjust="spacingAndGlyphs" font-family='"DejaVu Sans Condensed","DejaVu Sans","Liberation Sans",sans-serif' font-weight="bold" font-size="22.5" fill="#111">FSC–H</text><text transform="translate(739.2 542.4) rotate(-90)" textLength="73.0" lengthAdjust="spacingAndGlyphs" font-family='"DejaVu Sans Condensed","DejaVu Sans","Liberation Sans",sans-serif' font-weight="bold" font-size="22.5" fill="#111">FSC–H</text><text transform="translate(25.6 887.7) rotate(-90)" textLength="63.0" lengthAdjust="spacingAndGlyphs" font-family='"DejaVu Sans Condensed","DejaVu Sans","Liberation Sans",sans-serif' font-weight="bold" font-size="22.5" fill="#111">CD15</text><text transform="translate(382.6 887.7) rotate(-90)" textLength="63.0" lengthAdjust="spacingAndGlyphs" font-family='"DejaVu Sans Condensed","DejaVu Sans","Liberation Sans",sans-serif' font-weight="bold" font-size="22.5" fill="#111">CD15</text><text transform="translate(738.9 887.7) rotate(-90)" textLength="63.0" lengthAdjust="spacingAndGlyphs" font-family='"DejaVu Sans Condensed","DejaVu Sans","Liberation Sans",sans-serif' font-weight="bold" font-size="22.5" fill="#111">CD15</text><text x="259.6" y="726.8" font-size="24.4" font-family='"Liberation Sans",Arial,sans-serif' font-weight="bold" fill="#231f20">NP</text><text x="596.4" y="726.8" font-size="24.4" font-family='"Liberation Sans",Arial,sans-serif' font-weight="bold" fill="#231f20">NRS</text><text x="921.2" y="726.6" font-size="25" font-family='"Liberation Sans",Arial,sans-serif' font-weight="bold" fill="#231f20">PPASC</text><text x="0.2" y="23.9" font-size="28.6" font-family='"Liberation Sans",Arial,sans-serif' font-weight="bold" fill="#0a0a0a">A</text><text x="1048.6" y="23.9" font-size="28.6" font-family='"Liberation Sans",Arial,sans-serif' font-weight="bold" fill="#0a0a0a">B</text><text x="1058.4" y="567.5" font-size="28.6" font-family='"Liberation Sans",Arial,sans-serif' font-weight="bold" fill="#0a0a0a">C</text><path d="M340.0 263.3H383.5" stroke="#0a0a0a" stroke-width="7.4" stroke-linecap="round"/><path d="M382.1 254.2L399.7 263.3L382.1 272.4Z" fill="#0a0a0a"/><path d="M690.0 263.3H733.5" stroke="#0a0a0a" stroke-width="7.4" stroke-linecap="round"/><path d="M732.1 254.2L749.7 263.3L732.1 272.4Z" fill="#0a0a0a"/><path d="M340.0 603.3H383.5" stroke="#0a0a0a" stroke-width="7.4" stroke-linecap="round"/><path d="M382.1 594.2L399.7 603.3L382.1 612.4Z" fill="#0a0a0a"/><path d="M690.0 603.3H733.5" stroke="#0a0a0a" stroke-width="7.4" stroke-linecap="round"/><path d="M732.1 594.2L749.7 603.3L732.1 612.4Z" fill="#0a0a0a"/><path d="M833 317.8V347.8H229.2V366" fill="none" stroke="#0a0a0a" stroke-width="3.6" stroke-linejoin="miter"/><path d="M220.7 364.0H237.5L229.1 381.0Z" fill="#0a0a0a"/><path d="M834.8 662.4V693.8H224.4V714" fill="none" stroke="#0a0a0a" stroke-width="3.6" stroke-linejoin="miter"/><path d="M513.1 693.8V716M825.4 693.8V716" fill="none" stroke="#0a0a0a" stroke-width="3.6"/><path d="M216.0 712.3H232.8L224.4 728.8Z" fill="#0a0a0a"/><path d="M504.7 714.2H521.5L513.1 730.6Z" fill="#0a0a0a"/><path d="M817.0 714.0H833.8L825.4 730.2Z" fill="#0a0a0a"/>
<rect x="1209.2" y="388.4" width="41.8" height="45" fill="#7f7f7f" stroke="#0a0a0a" stroke-width="4.2"/><rect x="1279" y="392.9" width="41" height="40.5" fill="#d9dadb" stroke="#0a0a0a" stroke-width="4.2"/><rect x="1345" y="355.4" width="46.4" height="78" fill="#c6c6c6"/><rect x="1350" y="360.4" width="36.4" height="72" fill="#cdcdcd"/><path d="M1184.0 121.6L1184.0 264.7" stroke="#0a0a0a" stroke-width="3.7" stroke-linecap="butt" fill="none"/><path d="M1184.0 292L1184.0 435.4" stroke="#0a0a0a" stroke-width="3.7" stroke-linecap="butt" fill="none"/><path d="M1165 123.5L1184.0 123.5" stroke="#0a0a0a" stroke-width="3.7" stroke-linecap="butt" fill="none"/><path d="M1165 153L1184.0 153" stroke="#0a0a0a" stroke-width="3.7" stroke-linecap="butt" fill="none"/><path d="M1165 182.5L1184.0 182.5" stroke="#0a0a0a" stroke-width="3.7" stroke-linecap="butt" fill="none"/><path d="M1165 212L1184.0 212" stroke="#0a0a0a" stroke-width="3.7" stroke-linecap="butt" fill="none"/><path d="M1165 241.5L1184.0 241.5" stroke="#0a0a0a" stroke-width="3.7" stroke-linecap="butt" fill="none"/><path d="M1173.8 264.7L1194.3 264.7" stroke="#0a0a0a" stroke-width="3.7" stroke-linecap="butt" fill="none"/><path d="M1173.8 292L1194.3 292" stroke="#0a0a0a" stroke-width="3.7" stroke-linecap="butt" fill="none"/><path d="M1169.5 327.5L1184.0 327.5" stroke="#0a0a0a" stroke-width="3.7" stroke-linecap="butt" fill="none"/><path d="M1169.5 362.7L1184.0 362.7" stroke="#0a0a0a" stroke-width="3.7" stroke-linecap="butt" fill="none"/><path d="M1169.5 398L1184.0 398" stroke="#0a0a0a" stroke-width="3.7" stroke-linecap="butt" fill="none"/><path d="M1168.5 433.5L1415 433.5" stroke="#0a0a0a" stroke-width="3.8" stroke-linecap="butt" fill="none"/><path d="M1230 433.5L1230 447.2" stroke="#0a0a0a" stroke-width="3.5" stroke-linecap="butt" fill="none"/><path d="M1299.2 433.5L1299.2 447.2" stroke="#0a0a0a" stroke-width="3.5" stroke-linecap="butt" fill="none"/><path d="M1368 433.5L1368 447.2" stroke="#0a0a0a" stroke-width="3.5" stroke-linecap="butt" fill="none"/><text x="1164.8" y="132.9" font-size="26.8" font-family='"Liberation Sans",Arial,sans-serif' font-weight="bold" text-anchor="end" fill="#0a0a0a">50</text><text x="1164.8" y="162.4" font-size="26.8" font-family='"Liberation Sans",Arial,sans-serif' font-weight="bold" text-anchor="end" fill="#0a0a0a">40</text><text x="1164.8" y="191.9" font-size="26.8" font-family='"Liberation Sans",Arial,sans-serif' font-weight="bold" text-anchor="end" fill="#0a0a0a">30</text><text x="1164.8" y="221.4" font-size="26.8" font-family='"Liberation Sans",Arial,sans-serif' font-weight="bold" text-anchor="end" fill="#0a0a0a">20</text><text x="1164.8" y="250.9" font-size="26.8" font-family='"Liberation Sans",Arial,sans-serif' font-weight="bold" text-anchor="end" fill="#0a0a0a">10</text><text x="1169.2" y="301.4" font-size="26.8" font-family='"Liberation Sans",Arial,sans-serif' font-weight="bold" text-anchor="end" fill="#0a0a0a">2.0</text><text x="1169.2" y="336.9" font-size="26.8" font-family='"Liberation Sans",Arial,sans-serif' font-weight="bold" text-anchor="end" fill="#0a0a0a">1.5</text><text x="1169.2" y="372.09999999999997" font-size="26.8" font-family='"Liberation Sans",Arial,sans-serif' font-weight="bold" text-anchor="end" fill="#0a0a0a">1.0</text><text x="1169.2" y="407.4" font-size="26.8" font-family='"Liberation Sans",Arial,sans-serif' font-weight="bold" text-anchor="end" fill="#0a0a0a">0.5</text><text x="1169.2" y="442.9" font-size="26.8" font-family='"Liberation Sans",Arial,sans-serif' font-weight="bold" text-anchor="end" fill="#0a0a0a">0.0</text><text x="1230.5" y="470.6" font-size="24" font-family='"Liberation Sans",Arial,sans-serif' font-weight="bold" text-anchor="middle" fill="#231f20">NP</text><text x="1292.9" y="470.6" font-size="24" font-family='"Liberation Sans",Arial,sans-serif' font-weight="bold" text-anchor="middle" fill="#231f20">NRS</text><text x="1375.2" y="470.6" font-size="24.6" font-family='"Liberation Sans",Arial,sans-serif' font-weight="bold" text-anchor="middle" fill="#231f20">PPASC</text><text transform="translate(1110.6 306.6) rotate(-90)" font-size="26" textLength="69.4" lengthAdjust="spacingAndGlyphs" font-family='"Liberation Sans",Arial,sans-serif' font-weight="bold" fill="#0a0a0a">LDG %</text><path d="M1207.4 75L1359 75" stroke="#0a0a0a" stroke-width="3.4" stroke-linecap="round" fill="none"/><path d="M1203.4 121.3L1272.9 121.3" stroke="#0a0a0a" stroke-width="3.4" stroke-linecap="round" fill="none"/><path d="M1296.7 121.3L1367 121.3" stroke="#0a0a0a" stroke-width="3.4" stroke-linecap="round" fill="none"/><text x="1283" y="63.1" font-size="26.5" font-family='"Liberation Sans",Arial,sans-serif' text-anchor="middle" fill="#0a0a0a">ns</text><text x="1239" y="108.8" font-size="26.5" font-family='"Liberation Sans",Arial,sans-serif' text-anchor="middle" fill="#0a0a0a">ns</text><text x="1331.3" y="108.8" font-size="26.5" font-family='"Liberation Sans",Arial,sans-serif' text-anchor="middle" fill="#0a0a0a">ns</text><circle cx="1229.6" cy="264.9" r="4.9" fill="#0a0a0a"/><circle cx="1224" cy="346" r="4.9" fill="#0a0a0a"/><circle cx="1236" cy="344" r="4.9" fill="#0a0a0a"/><circle cx="1236" cy="374.5" r="4.9" fill="#0a0a0a"/><circle cx="1224.4" cy="380.2" r="4.9" fill="#0a0a0a"/><circle cx="1213" cy="385.2" r="4.9" fill="#0a0a0a"/><circle cx="1223.8" cy="391.7" r="4.9" fill="#0a0a0a"/><circle cx="1236.4" cy="388" r="4.9" fill="#0a0a0a"/><circle cx="1246.5" cy="388.6" r="4.9" fill="#0a0a0a"/><circle cx="1229.5" cy="405" r="4.9" fill="#0a0a0a"/><circle cx="1235.8" cy="417.2" r="4.9" fill="#0a0a0a"/><circle cx="1224.4" cy="419.8" r="4.9" fill="#0a0a0a"/><rect x="1294.2" y="251.0" width="9.6" height="9.6" fill="#0a0a0a"/><rect x="1294.2" y="316.7" width="9.6" height="9.6" fill="#0a0a0a"/><rect x="1294.2" y="359.6" width="9.6" height="9.6" fill="#0a0a0a"/><rect x="1299.7" y="381.5" width="9.6" height="9.6" fill="#0a0a0a"/><rect x="1288.0" y="387.9" width="9.6" height="9.6" fill="#0a0a0a"/><rect x="1306.2" y="387.2" width="9.6" height="9.6" fill="#0a0a0a"/><rect x="1299.7" y="399.0" width="9.6" height="9.6" fill="#0a0a0a"/><rect x="1288.4" y="404.4" width="9.6" height="9.6" fill="#0a0a0a"/><path d="M1363.1 139.5H1373.3L1368.2 130.5Z" fill="#0a0a0a"/><path d="M1363.6 242.5H1373.8L1368.7 233.5Z" fill="#0a0a0a"/><path d="M1352.4 268.4H1362.6L1357.5 259.4Z" fill="#0a0a0a"/><path d="M1373.6 265.5H1383.8L1378.7 256.5Z" fill="#0a0a0a"/><path d="M1363.6 311.4H1373.8L1368.7 302.4Z" fill="#0a0a0a"/><path d="M1363.6 338.4H1373.8L1368.7 329.4Z" fill="#0a0a0a"/><path d="M1373.6 384.2H1383.8L1378.7 375.2Z" fill="#0a0a0a"/><path d="M1352.4 392.7H1362.6L1357.5 383.7Z" fill="#0a0a0a"/><path d="M1363.6 403.3H1373.8L1368.7 394.3Z" fill="#0a0a0a"/><path d="M1352.4 414.2H1362.6L1357.5 405.2Z" fill="#0a0a0a"/><path d="M1373.6 417.4H1383.8L1378.7 408.4Z" fill="#0a0a0a"/><path d="M1363.0 438.1H1373.2L1368.1 429.1Z" fill="#0a0a0a"/>
<rect x="1209.2" y="951.5" width="41.8" height="4" fill="#7f7f7f" stroke="#0a0a0a" stroke-width="3"/><rect x="1278.8" y="935.4" width="42.2" height="20" fill="#d9dadb" stroke="#0a0a0a" stroke-width="4.2"/><rect x="1345.6" y="872.9" width="46.4" height="83" fill="#c6c6c6"/><rect x="1350.6" y="877.9" width="36.4" height="77" fill="#cdcdcd"/><path d="M1184.7 643.3L1184.7 787" stroke="#0a0a0a" stroke-width="3.7" stroke-linecap="butt" fill="none"/><path d="M1184.7 814.6L1184.7 957.8" stroke="#0a0a0a" stroke-width="3.7" stroke-linecap="butt" fill="none"/><path d="M1165 645.2L1184.7 645.2" stroke="#0a0a0a" stroke-width="3.7" stroke-linecap="butt" fill="none"/><path d="M1165 685.8L1184.7 685.8" stroke="#0a0a0a" stroke-width="3.7" stroke-linecap="butt" fill="none"/><path d="M1165 726.4L1184.7 726.4" stroke="#0a0a0a" stroke-width="3.7" stroke-linecap="butt" fill="none"/><path d="M1165 767.1L1184.7 767.1" stroke="#0a0a0a" stroke-width="3.7" stroke-linecap="butt" fill="none"/><path d="M1174.4 787L1195 787" stroke="#0a0a0a" stroke-width="3.7" stroke-linecap="butt" fill="none"/><path d="M1174.4 814.6L1195 814.6" stroke="#0a0a0a" stroke-width="3.7" stroke-linecap="butt" fill="none"/><path d="M1170 884.8L1184.7 884.8" stroke="#0a0a0a" stroke-width="3.7" stroke-linecap="butt" fill="none"/><path d="M1168.5 955.9L1415 955.9" stroke="#0a0a0a" stroke-width="3.8" stroke-linecap="butt" fill="none"/><path d="M1230.3 955.9L1230.3 968.4" stroke="#0a0a0a" stroke-width="3.5" stroke-linecap="butt" fill="none"/><path d="M1299.7 955.9L1299.7 968.4" stroke="#0a0a0a" stroke-width="3.5" stroke-linecap="butt" fill="none"/><path d="M1368.7 955.9L1368.7 968.4" stroke="#0a0a0a" stroke-width="3.5" stroke-linecap="butt" fill="none"/><text x="1165" y="654.6" font-size="26.8" font-family='"Liberation Sans",Arial,sans-serif' font-weight="bold" text-anchor="end" fill="#0a0a0a">50000</text><text x="1165" y="695.1999999999999" font-size="26.8" font-family='"Liberation Sans",Arial,sans-serif' font-weight="bold" text-anchor="end" fill="#0a0a0a">40000</text><text x="1165" y="735.8" font-size="26.8" font-family='"Liberation Sans",Arial,sans-serif' font-weight="bold" text-anchor="end" fill="#0a0a0a">30000</text><text x="1165" y="776.5" font-size="26.8" font-family='"Liberation Sans",Arial,sans-serif' font-weight="bold" text-anchor="end" fill="#0a0a0a">20000</text><text x="1169.6" y="824.0" font-size="26.8" font-family='"Liberation Sans",Arial,sans-serif' font-weight="bold" text-anchor="end" fill="#0a0a0a">10000</text><text x="1169.6" y="894.1999999999999" font-size="26.8" font-family='"Liberation Sans",Arial,sans-serif' font-weight="bold" text-anchor="end" fill="#0a0a0a">5000</text><text x="1169.6" y="965.3" font-size="26.8" font-family='"Liberation Sans",Arial,sans-serif' font-weight="bold" text-anchor="end" fill="#0a0a0a">0</text><text x="1223.6" y="992.6" font-size="24" font-family='"Liberation Sans",Arial,sans-serif' font-weight="bold" text-anchor="middle" fill="#231f20">NP</text><text x="1291.4" y="992.6" font-size="24" font-family='"Liberation Sans",Arial,sans-serif' font-weight="bold" text-anchor="middle" fill="#231f20">NRS</text><text x="1367.4" y="992.6" font-size="24.6" font-family='"Liberation Sans",Arial,sans-serif' font-weight="bold" text-anchor="middle" fill="#231f20">PPASC</text><text transform="translate(1079.8 837.6) rotate(-90)" font-size="26" textLength="115" lengthAdjust="spacingAndGlyphs" font-family='"Liberation Sans",Arial,sans-serif' font-weight="bold" fill="#0a0a0a">LDG Count</text><path d="M1218.7 594.9L1369.6 594.9" stroke="#0a0a0a" stroke-width="3.4" stroke-linecap="round" fill="none"/><path d="M1214.5 640.7L1283.5 640.7" stroke="#0a0a0a" stroke-width="3.4" stroke-linecap="round" fill="none"/><path d="M1308.1 640.7L1377.5 640.7" stroke="#0a0a0a" stroke-width="3.4" stroke-linecap="round" fill="none"/><text x="1301.5" y="584.6" font-size="26.3" font-family='"Liberation Sans",Arial,sans-serif' text-anchor="middle" fill="#0a0a0a">0.0145</text><text x="1248.7" y="630.7" font-size="26.5" font-family='"Liberation Sans",Arial,sans-serif' text-anchor="middle" fill="#0a0a0a">ns</text><text x="1342.4" y="630.7" font-size="26.5" font-family='"Liberation Sans",Arial,sans-serif' text-anchor="middle" fill="#0a0a0a">ns</text><circle cx="1228.7" cy="941.8" r="4.9" fill="#0a0a0a"/><circle cx="1216.3" cy="947.1" r="4.9" fill="#0a0a0a"/><circle cx="1222.9" cy="949.2" r="4.9" fill="#0a0a0a"/><circle cx="1234.8" cy="944.5" r="4.9" fill="#0a0a0a"/><circle cx="1212.3" cy="954.3" r="4.9" fill="#0a0a0a"/><circle cx="1220.2" cy="953.5" r="4.9" fill="#0a0a0a"/><circle cx="1228.7" cy="954.3" r="4.9" fill="#0a0a0a"/><circle cx="1237.5" cy="953" r="4.9" fill="#0a0a0a"/><circle cx="1244.1" cy="954.3" r="4.9" fill="#0a0a0a"/><circle cx="1249.4" cy="951.9" r="4.9" fill="#0a0a0a"/><rect x="1294.9" y="837.6" width="9.6" height="9.6" fill="#0a0a0a"/><rect x="1294.9" y="913.4" width="9.6" height="9.6" fill="#0a0a0a"/><rect x="1294.9" y="929.9" width="9.6" height="9.6" fill="#0a0a0a"/><rect x="1288.3" y="940.4" width="9.6" height="9.6" fill="#0a0a0a"/><rect x="1301.0" y="939.1" width="9.6" height="9.6" fill="#0a0a0a"/><rect x="1284.3" y="947.6" width="9.6" height="9.6" fill="#0a0a0a"/><rect x="1303.4" y="949.7" width="9.6" height="9.6" fill="#0a0a0a"/><rect x="1310.8" y="945.0" width="9.6" height="9.6" fill="#0a0a0a"/><rect x="1293.6" y="947.6" width="9.6" height="9.6" fill="#0a0a0a"/><path d="M1364.1 690.8H1374.3L1369.2 681.8Z" fill="#0a0a0a"/><path d="M1364.1 772.5H1374.3L1369.2 763.5Z" fill="#0a0a0a"/><path d="M1364.1 923.2H1374.3L1369.2 914.2Z" fill="#0a0a0a"/><path d="M1346.3 939.7H1356.5L1351.4 930.7Z" fill="#0a0a0a"/><path d="M1355.1 946.3H1365.3L1360.2 937.3Z" fill="#0a0a0a"/><path d="M1364.1 945.8H1374.3L1369.2 936.8Z" fill="#0a0a0a"/><path d="M1372.8 942.3H1383.0L1377.9 933.3Z" fill="#0a0a0a"/><path d="M1382.1 941.8H1392.3L1387.2 932.8Z" fill="#0a0a0a"/><path d="M1372.8 953.7H1383.0L1377.9 944.7Z" fill="#0a0a0a"/><path d="M1346.3 956.9H1356.5L1351.4 947.9Z" fill="#0a0a0a"/><path d="M1363.6 956.9H1373.8L1368.7 947.9Z" fill="#0a0a0a"/><path d="M1382.1 961.7H1392.3L1387.2 952.7Z" fill="#0a0a0a"/>
</svg></body></html>
